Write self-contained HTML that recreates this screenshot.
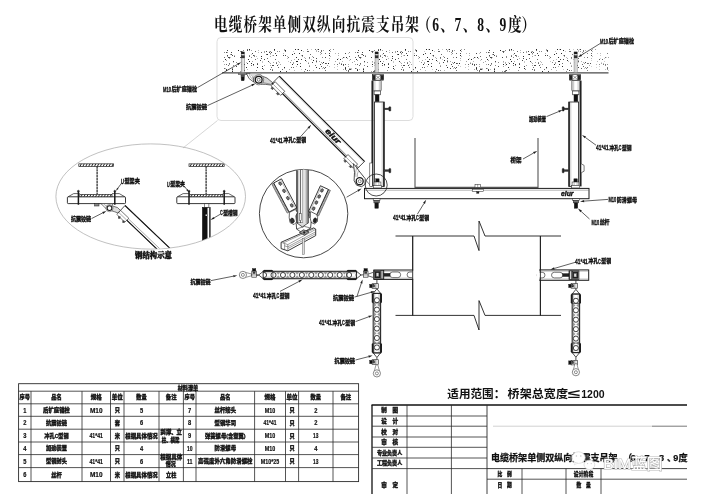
<!DOCTYPE html>
<html lang="zh-CN">
<head>
<meta charset="utf-8">
<title>电缆桥架单侧双纵向抗震支吊架</title>
<style>
html,body{margin:0;padding:0;background:#fff;}
body{width:705px;height:494px;overflow:hidden;font-family:"Liberation Sans","Noto Sans CJK SC",sans-serif;}
svg{display:block;}
</style>
</head>
<body>
<svg width="705" height="494" viewBox="0 0 705 494">
<rect width="705" height="494" fill="#fff"/>
<g opacity="0.999">

<defs><pattern id="stip" x="222" y="48" width="131" height="24" patternUnits="userSpaceOnUse"><path d="M115 18h1v1h-1zM48 6h1v1h-1zM112 19h1v1h-1zM19 14h1v1h-1zM21 17h1v1h-1zM127 12h1v1h-1zM8 9h1v1h-1zM79 21h1v1h-1zM50 7h1v1h-1zM128 20h1v1h-1zM40 13h1v1h-1zM85 22h1v1h-1zM117 14h1v1h-1zM86 14h1v1h-1zM24 14h1v1h-1zM107 18h1v1h-1zM129 21h1v1h-1zM29 6h1v1h-1zM94 14h1v1h-1zM47 3h1v1h-1zM40 14h1v1h-1zM81 3h1v1h-1zM122 9h1v1h-1zM107 12h1v1h-1zM129 20h1v1h-1zM71 3h1v1h-1zM126 5h1v1h-1zM66 13h1v1h-1zM116 10h1v1h-1zM56 16h1v1h-1zM89 11h1v1h-1zM11 14h1v1h-1zM89 1h1v1h-1z" fill="#c8c8c8"/><path d="M119 15h1v1h-1zM121 21h1v1h-1zM48 8h1v1h-1zM71 14h1v1h-1zM80 8h1v1h-1zM48 15h1v1h-1zM62 1h1v1h-1zM94 12h1v1h-1zM116 5h1v1h-1zM27 2h1v1h-1zM125 10h1v1h-1zM58 16h1v1h-1zM7 16h1v1h-1zM97 13h1v1h-1zM7 10h1v1h-1zM2 16h1v1h-1zM69 12h1v1h-1zM1 13h1v1h-1zM4 12h1v1h-1zM8 6h1v1h-1zM112 16h1v1h-1zM42 17h1v1h-1zM77 5h1v1h-1zM51 14h1v1h-1zM96 1h1v1h-1zM42 3h1v1h-1zM90 8h1v1h-1zM31 17h1v1h-1zM105 17h1v1h-1zM42 4h1v1h-1zM103 19h1v1h-1zM48 17h1v1h-1zM19 13h1v1h-1zM30 13h1v1h-1zM5 4h1v1h-1zM113 13h1v1h-1zM87 18h1v1h-1zM130 14h1v1h-1zM19 18h1v1h-1zM126 18h1v1h-1zM107 10h1v1h-1zM101 2h1v1h-1zM62 2h1v1h-1zM29 2h1v1h-1zM106 15h1v1h-1zM67 21h1v1h-1zM108 1h1v1h-1zM83 10h1v1h-1zM21 14h1v1h-1zM71 15h1v1h-1zM5 8h1v1h-1zM108 3h1v1h-1zM126 16h1v1h-1zM18 23h1v1h-1zM99 14h1v1h-1z" fill="#a4a4a4"/><path d="M47 4h1v1h-1zM10 20h1v1h-1zM85 1h1v1h-1zM48 5h1v1h-1zM98 4h1v1h-1zM50 22h1v1h-1zM100 9h1v1h-1zM68 14h1v1h-1zM18 3h1v1h-1zM21 22h1v1h-1zM29 9h1v1h-1zM117 15h1v1h-1zM87 22h1v1h-1zM50 21h1v1h-1zM51 7h1v1h-1zM54 14h1v1h-1zM57 3h1v1h-1zM99 5h1v1h-1zM128 11h1v1h-1zM21 2h1v1h-1zM87 18h1v1h-1zM55 3h1v1h-1zM22 8h1v1h-1zM69 19h1v1h-1zM11 17h1v1h-1zM27 7h1v1h-1zM127 4h1v1h-1zM111 1h1v1h-1zM22 9h1v1h-1zM32 7h1v1h-1zM48 3h1v1h-1zM34 22h1v1h-1zM100 15h1v1h-1zM87 10h1v1h-1zM25 21h1v1h-1zM14 14h1v1h-1zM32 8h1v1h-1zM19 4h1v1h-1zM54 15h1v1h-1zM124 22h1v1h-1zM82 23h1v1h-1zM101 19h1v1h-1zM86 15h1v1h-1zM96 3h1v1h-1zM2 4h1v1h-1zM41 21h1v1h-1z" fill="#8a8a8a"/><path d="M77 5h1v1h-1zM40 20h1v1h-1zM16 2h1v1h-1zM75 16h1v1h-1zM73 1h1v1h-1zM27 13h1v1h-1zM74 13h1v1h-1zM4 22h1v1h-1zM54 7h1v1h-1zM101 14h1v1h-1zM25 1h1v1h-1zM107 7h1v1h-1zM75 13h1v1h-1zM123 20h1v1h-1zM107 2h1v1h-1zM52 1h1v1h-1zM63 2h1v1h-1zM35 19h1v1h-1zM79 2h1v1h-1zM19 16h1v1h-1zM3 20h1v1h-1zM22 16h1v1h-1zM58 23h1v1h-1zM124 9h1v1h-1zM10 23h1v1h-1zM70 6h1v1h-1zM115 11h1v1h-1zM29 15h1v1h-1zM70 16h1v1h-1zM29 17h1v1h-1zM31 16h1v1h-1zM39 8h1v1h-1zM91 12h1v1h-1zM27 1h1v1h-1zM24 19h1v1h-1zM3 11h1v1h-1zM96 1h1v1h-1zM75 1h1v1h-1zM62 19h1v1h-1zM106 15h1v1h-1zM10 21h1v1h-1zM94 19h1v1h-1zM118 11h1v1h-1zM76 1h1v1h-1zM83 12h1v1h-1zM45 6h1v1h-1zM78 18h1v1h-1zM26 11h1v1h-1zM74 9h1v1h-1z" fill="#2a2a2a"/><path d="M115 21h1v1h-1zM21 15h1v1h-1zM120 13h1v1h-1zM100 20h1v1h-1zM98 6h1v1h-1zM65 8h1v1h-1zM94 2h1v1h-1zM3 20h1v1h-1zM20 3h1v1h-1zM84 13h1v1h-1zM127 20h1v1h-1zM10 22h1v1h-1zM36 2h1v1h-1zM94 3h1v1h-1zM116 7h1v1h-1zM25 21h1v1h-1zM82 9h1v1h-1zM74 18h1v1h-1zM65 10h1v1h-1zM72 11h1v1h-1zM34 8h1v1h-1zM61 5h1v1h-1zM87 17h1v1h-1zM95 1h1v1h-1zM12 7h1v1h-1zM72 22h1v1h-1zM57 14h1v1h-1zM62 20h1v1h-1zM113 5h1v1h-1zM35 10h1v1h-1zM47 14h1v1h-1zM79 7h1v1h-1zM91 22h1v1h-1zM56 13h1v1h-1zM75 1h1v1h-1zM6 21h1v1h-1zM36 4h1v1h-1zM108 8h1v1h-1zM120 10h1v1h-1z" fill="#b8b8b8"/><path d="M7 15h1v1h-1zM21 23h1v1h-1zM50 22h1v1h-1zM86 3h1v1h-1zM69 19h1v1h-1zM54 15h1v1h-1zM2 20h1v1h-1zM45 10h1v1h-1zM33 3h1v1h-1zM35 15h1v1h-1zM4 16h1v1h-1zM33 11h1v1h-1zM127 8h1v1h-1zM103 22h1v1h-1zM56 19h1v1h-1zM115 16h1v1h-1zM126 22h1v1h-1zM71 19h1v1h-1zM99 3h1v1h-1zM121 17h1v1h-1zM88 6h1v1h-1zM44 6h1v1h-1zM19 4h1v1h-1zM104 15h1v1h-1zM87 9h1v1h-1zM103 5h1v1h-1zM25 1h1v1h-1zM12 8h1v1h-1zM27 8h1v1h-1zM66 9h1v1h-1zM102 20h1v1h-1zM93 17h1v1h-1zM123 21h1v1h-1zM99 2h1v1h-1zM52 2h1v1h-1zM39 4h1v1h-1zM29 17h1v1h-1zM91 9h1v1h-1zM48 21h1v1h-1zM2 9h1v1h-1zM60 21h1v1h-1zM123 16h1v1h-1zM53 11h1v1h-1zM20 23h1v1h-1zM126 23h1v1h-1zM78 15h1v1h-1zM63 3h1v1h-1zM93 1h1v1h-1zM49 19h1v1h-1zM85 3h1v1h-1zM6 17h1v1h-1z" fill="#6a6a6a"/><path d="M50 17h1v1h-1zM30 5h1v1h-1zM119 16h1v1h-1zM5 7h1v1h-1zM25 2h1v1h-1zM19 3h1v1h-1zM123 19h1v1h-1zM39 10h1v1h-1zM63 7h1v1h-1zM44 3h1v1h-1zM18 9h1v1h-1zM79 11h1v1h-1zM94 10h1v1h-1zM51 17h1v1h-1zM53 5h1v1h-1zM4 21h1v1h-1zM103 15h1v1h-1zM6 9h1v1h-1zM121 9h1v1h-1zM9 6h1v1h-1zM83 21h1v1h-1zM31 7h1v1h-1zM35 16h1v1h-1zM97 20h1v1h-1zM103 9h1v1h-1zM121 16h1v1h-1zM7 9h1v1h-1zM5 2h1v1h-1zM64 23h1v1h-1zM40 18h1v1h-1zM55 17h1v1h-1zM80 7h1v1h-1zM49 4h1v1h-1zM4 4h1v1h-1zM123 5h1v1h-1zM47 4h1v1h-1zM90 14h1v1h-1zM10 7h1v1h-1zM94 13h1v1h-1zM46 13h1v1h-1zM76 11h1v1h-1zM103 19h1v1h-1zM127 21h1v1h-1zM11 13h1v1h-1zM98 16h1v1h-1zM25 15h1v1h-1zM61 7h1v1h-1zM128 21h1v1h-1zM9 4h1v1h-1zM22 22h1v1h-1zM38 12h1v1h-1zM72 5h1v1h-1zM99 18h1v1h-1zM14 18h1v1h-1zM85 22h1v1h-1zM107 5h1v1h-1zM42 11h1v1h-1z" fill="#4a4a4a"/></pattern>
<linearGradient id="fadeR" x1="0" x2="1" y1="0" y2="0"><stop offset="0" stop-color="#fff" stop-opacity="0"/><stop offset="1" stop-color="#fff" stop-opacity="0.3"/></linearGradient>
</defs>
<g transform="translate(0,31.2) scale(1,1.33)">
<text x="214 228.72 243.44 258.16 272.88 287.6 302.32 317.04 331.76 346.48 361.2 375.92 390.64 405.36" y="0" font-size="13.6" font-family='"Liberation Serif","Noto Serif CJK SC",serif' font-weight="700" fill="#111">电缆桥架单侧双纵向抗震支吊架</text>
<text x="417.5 432.2 440.2 454.6 462.8 477.2 485.6 499.6 508 521.5" y="0" font-size="13.6" font-family='"Liberation Serif","Noto Serif CJK SC",serif' font-weight="700" fill="#111">（6、7、8、9度）</text>
</g>
<rect x="217" y="37.5" width="196" height="83" rx="4" stroke="#d4d4d4" stroke-width="0.8" fill="none" />
<line x1="217.5" y1="120.5" x2="183" y2="148" stroke="#c4c4c4" stroke-width="0.7" />
<rect x="222" y="48" width="386.5" height="24" fill="url(#stip)"/>
<rect x="560" y="48.5" width="48.5" height="23.5" fill="url(#fadeR)"/>
<line x1="222" y1="72.8" x2="608.5" y2="72.8" stroke="#4a4a4a" stroke-width="1.3" />
<rect x="241.2" y="52" width="3" height="20.6" rx="0" stroke="#555" stroke-width="0.5" fill="#f4f4f4" />
<rect x="241.2" y="52" width="3" height="2" rx="0" stroke="#1c1c1c" stroke-width="0.3" fill="#1a1a1a" />
<rect x="241.2" y="55.5" width="3" height="2.5" rx="0" stroke="#1c1c1c" stroke-width="0.3" fill="#333" />
<line x1="242.7" y1="58" x2="242.7" y2="72.6" stroke="#999" stroke-width="0.4" />
<rect x="238.6" y="73.5" width="8.2" height="1.3" rx="0" stroke="#444" stroke-width="0.4" fill="#999" />
<path d="M240.9 74.8 H244.6 L244.1 80.4 H241.4 Z" stroke="#222" stroke-width="0.4" fill="#555" />
<rect x="241.5" y="77" width="2.5" height="3.4" rx="0" stroke="#1c1c1c" stroke-width="0.3" fill="#111" />
<rect x="375.1" y="52" width="3" height="20.6" rx="0" stroke="#555" stroke-width="0.5" fill="#f4f4f4" />
<rect x="375.1" y="52" width="3" height="2" rx="0" stroke="#1c1c1c" stroke-width="0.3" fill="#1a1a1a" />
<rect x="375.1" y="55.5" width="3" height="2.5" rx="0" stroke="#1c1c1c" stroke-width="0.3" fill="#333" />
<line x1="376.6" y1="58" x2="376.6" y2="72.6" stroke="#999" stroke-width="0.4" />
<rect x="574.1" y="52" width="3" height="20.6" rx="0" stroke="#555" stroke-width="0.5" fill="#f4f4f4" />
<rect x="574.1" y="52" width="3" height="2" rx="0" stroke="#1c1c1c" stroke-width="0.3" fill="#1a1a1a" />
<rect x="574.1" y="55.5" width="3" height="2.5" rx="0" stroke="#1c1c1c" stroke-width="0.3" fill="#333" />
<line x1="575.6" y1="58" x2="575.6" y2="72.6" stroke="#999" stroke-width="0.4" />
<path d="M246.4 73.4 Q248.2 79.4 253.6 82 Q254 76.4 250.2 73.4 Z" stroke="#222" stroke-width="0.7" fill="#fff" />
<path d="M248.8 73.4 Q250 77.4 253.2 80" stroke="#666" stroke-width="0.5" fill="none" />
<path d="M250.2 73.4 L262 73.4 L258.8 75.6 Q254 75.8 253 77.6" stroke="#888" stroke-width="0.5" fill="#ddd" />
<path d="M261.4 75.8 L267 78 L272.6 82.6 L270.8 85 L265.6 84.4 L261 84.2 Z" stroke="#333" stroke-width="0.7" fill="#d8d8d8" />
<path d="M263 82.6 L270.6 84.2" stroke="#555" stroke-width="0.5" fill="none" />
<circle cx="258.7" cy="79.8" r="5" stroke="#333" stroke-width="0.6" fill="#fff"/>
<circle cx="258.7" cy="79.8" r="3.4" stroke="#1a1a1a" stroke-width="1.3" fill="#fff"/>
<circle cx="258.7" cy="79.8" r="1.5" stroke="#333" stroke-width="0.6" fill="#fff"/>
<path d="M279.29 76.21L364.49 161.42L357.42 168.49L272.21 83.29Z" stroke="#1c1c1c" stroke-width="0.8" fill="#fff" />
<line x1="279.29" y1="76.21" x2="364.49" y2="161.42" stroke="#1a1a1a" stroke-width="1.1" />
<line x1="272.21" y1="83.29" x2="357.42" y2="168.49" stroke="#1a1a1a" stroke-width="1.2" />
<line x1="273.35" y1="82.15" x2="358.55" y2="167.36" stroke="#444" stroke-width="0.6" />
<line x1="278.51" y1="76.99" x2="363.71" y2="162.2" stroke="#888" stroke-width="0.4" />
<path d="M275.18 81.73L284.73 91.28L280.63 95.38L271.08 85.83Z" stroke="#222" stroke-width="0.7" fill="#fff" />
<line x1="272.92" y1="83.99" x2="282.47" y2="93.54" stroke="#555" stroke-width="0.5" />
<path d="M272.14 86.89L273.7 88.45L272.43 89.72L270.87 88.16Z" stroke="#222" stroke-width="0.4" fill="#555" />
<path d="M277.59 92.34L279.14 93.89L277.87 95.16L276.32 93.61Z" stroke="#222" stroke-width="0.4" fill="#555" />
<path d="M348.02 154.56L357.56 164.11L353.46 168.21L343.91 158.66Z" stroke="#222" stroke-width="0.7" fill="#fff" />
<line x1="345.75" y1="156.82" x2="355.3" y2="166.37" stroke="#555" stroke-width="0.5" />
<path d="M344.98 159.72L346.53 161.28L345.26 162.55L343.7 161Z" stroke="#222" stroke-width="0.4" fill="#555" />
<path d="M350.42 165.17L351.98 166.72L350.7 168L349.15 166.44Z" stroke="#222" stroke-width="0.4" fill="#555" />
<text transform="translate(332.81,136.53) rotate(45)" x="0" y="2.2" font-size="7.6" font-style="italic" font-weight="bold" font-family='"Liberation Sans","Noto Sans CJK SC",sans-serif' text-anchor="middle" fill="#111" stroke="#111" stroke-width="0.45" textLength="18.5" lengthAdjust="spacingAndGlyphs">eiur</text>
<path d="M353.4 163.6 L356.6 167.4 L358.6 170.4 L365.3 178.8 L364.9 184.4 L361.6 186.7 L356.6 185.2 L354.1 180.6 L354.5 172.4 Z" stroke="#222" stroke-width="0.8" fill="#fff" />
<path d="M356.6 167.4 L355.6 172.6 L356 177" stroke="#666" stroke-width="0.5" fill="none" />
<path d="M358.6 170.4 L357.4 174 L357.6 176.8" stroke="#666" stroke-width="0.5" fill="none" />
<circle cx="359.7" cy="181.2" r="3.5" stroke="#1a1a1a" stroke-width="1.3" fill="#fff"/>
<circle cx="359.7" cy="181.2" r="1.5" stroke="#333" stroke-width="0.6" fill="#fff"/>
<path d="M365.6 179.8 L371.4 186.8" stroke="#333" stroke-width="0.6" fill="none" />
<g transform="translate(372.3,0)">
<rect x="0.4" y="74.6" width="10.6" height="5.6" rx="0" stroke="#1c1c1c" stroke-width="0.6" fill="#fff" />
<rect x="0.4" y="75.2" width="2.6" height="4.6" rx="0" stroke="#1c1c1c" stroke-width="0.4" fill="#222" />
<rect x="8.4" y="75.2" width="2.6" height="4.6" rx="0" stroke="#1c1c1c" stroke-width="0.4" fill="#222" />
<path d="M3 75 L8.4 79.8 M3 79.8 L8.4 75" stroke="#333" stroke-width="0.5" fill="none" />
<rect x="0.8" y="80.4" width="8" height="10.6" rx="0.8" stroke="#1c1c1c" stroke-width="0.7" fill="#fff" />
<line x1="2.6" y1="81" x2="2.6" y2="90.6" stroke="#666" stroke-width="0.4" />
<line x1="7" y1="81" x2="7" y2="90.6" stroke="#666" stroke-width="0.4" />
<rect x="1.8" y="91" width="6.2" height="3.8" rx="0" stroke="#1c1c1c" stroke-width="0.6" fill="#fff" />
<rect x="2.9" y="94.8" width="3.8" height="6.8" rx="0" stroke="#1c1c1c" stroke-width="0.5" fill="#111" />
<line x1="0" y1="80.6" x2="0" y2="186.4" stroke="#222" stroke-width="1.7" />
<line x1="1.3" y1="91" x2="1.3" y2="186.4" stroke="#555" stroke-width="0.5" />
<rect x="2.1" y="102" width="9.8" height="84.4" rx="0" stroke="#1c1c1c" stroke-width="0.8" fill="#fff" />
<line x1="11.5" y1="102" x2="11.5" y2="186.4" stroke="#222" stroke-width="1.4" />
<line x1="9.9" y1="102" x2="9.9" y2="186.4" stroke="#777" stroke-width="0.4" />
<rect x="12.2" y="108.1" width="4.4" height="1.6" rx="0" stroke="#1c1c1c" stroke-width="0.4" fill="#333" />
<rect x="16.6" y="106.7" width="1.9" height="4.4" rx="0.6" stroke="#1c1c1c" stroke-width="0.4" fill="#222" />
<rect x="12.2" y="169.8" width="4.4" height="1.6" rx="0" stroke="#1c1c1c" stroke-width="0.4" fill="#333" />
<rect x="16.6" y="168.4" width="1.9" height="4.4" rx="0.6" stroke="#1c1c1c" stroke-width="0.4" fill="#222" />
<rect x="-2.5" y="163" width="2.5" height="23.4" rx="0" stroke="#1c1c1c" stroke-width="0.5" fill="#fff" />
<rect x="3.4" y="178.8" width="3.4" height="3.2" rx="0" stroke="#1c1c1c" stroke-width="0.4" fill="#111" />
<rect x="1.8" y="182" width="6.8" height="3.4" rx="0" stroke="#1c1c1c" stroke-width="0.5" fill="#fff" />
<line x1="3.6" y1="182" x2="3.6" y2="185.4" stroke="#444" stroke-width="0.4" />
<line x1="6.6" y1="182" x2="6.6" y2="185.4" stroke="#444" stroke-width="0.4" />
<rect x="1.2" y="185.4" width="8" height="2.6" rx="0" stroke="#1c1c1c" stroke-width="0.5" fill="#fff" />
</g>
<g transform="translate(580.7,0) scale(-1,1)">
<rect x="0.4" y="74.6" width="10.6" height="5.6" rx="0" stroke="#1c1c1c" stroke-width="0.6" fill="#fff" />
<rect x="0.4" y="75.2" width="2.6" height="4.6" rx="0" stroke="#1c1c1c" stroke-width="0.4" fill="#222" />
<rect x="8.4" y="75.2" width="2.6" height="4.6" rx="0" stroke="#1c1c1c" stroke-width="0.4" fill="#222" />
<path d="M3 75 L8.4 79.8 M3 79.8 L8.4 75" stroke="#333" stroke-width="0.5" fill="none" />
<rect x="0.8" y="80.4" width="8" height="10.6" rx="0.8" stroke="#1c1c1c" stroke-width="0.7" fill="#fff" />
<line x1="2.6" y1="81" x2="2.6" y2="90.6" stroke="#666" stroke-width="0.4" />
<line x1="7" y1="81" x2="7" y2="90.6" stroke="#666" stroke-width="0.4" />
<rect x="1.8" y="91" width="6.2" height="3.8" rx="0" stroke="#1c1c1c" stroke-width="0.6" fill="#fff" />
<rect x="2.9" y="94.8" width="3.8" height="6.8" rx="0" stroke="#1c1c1c" stroke-width="0.5" fill="#111" />
<line x1="0" y1="80.6" x2="0" y2="186.4" stroke="#222" stroke-width="1.7" />
<line x1="1.3" y1="91" x2="1.3" y2="186.4" stroke="#555" stroke-width="0.5" />
<rect x="2.1" y="102" width="9.8" height="84.4" rx="0" stroke="#1c1c1c" stroke-width="0.8" fill="#fff" />
<line x1="11.5" y1="102" x2="11.5" y2="186.4" stroke="#222" stroke-width="1.4" />
<line x1="9.9" y1="102" x2="9.9" y2="186.4" stroke="#777" stroke-width="0.4" />
<rect x="12.2" y="108.1" width="4.4" height="1.6" rx="0" stroke="#1c1c1c" stroke-width="0.4" fill="#333" />
<rect x="16.6" y="106.7" width="1.9" height="4.4" rx="0.6" stroke="#1c1c1c" stroke-width="0.4" fill="#222" />
<rect x="12.2" y="169.8" width="4.4" height="1.6" rx="0" stroke="#1c1c1c" stroke-width="0.4" fill="#333" />
<rect x="16.6" y="168.4" width="1.9" height="4.4" rx="0.6" stroke="#1c1c1c" stroke-width="0.4" fill="#222" />
<path d="M-0.8 164 L-3.4 165.4 V171.2 L-0.8 172.6" stroke="#222" stroke-width="0.6" fill="#fff" />
<rect x="3.4" y="178.8" width="3.4" height="3.2" rx="0" stroke="#1c1c1c" stroke-width="0.4" fill="#111" />
<rect x="1.8" y="182" width="6.8" height="3.4" rx="0" stroke="#1c1c1c" stroke-width="0.5" fill="#fff" />
<line x1="3.6" y1="182" x2="3.6" y2="185.4" stroke="#444" stroke-width="0.4" />
<line x1="6.6" y1="182" x2="6.6" y2="185.4" stroke="#444" stroke-width="0.4" />
<rect x="1.2" y="185.4" width="8" height="2.6" rx="0" stroke="#1c1c1c" stroke-width="0.5" fill="#fff" />
</g>
<rect x="364.5" y="188.4" width="224.5" height="10.3" rx="0" stroke="#1c1c1c" stroke-width="1.0" fill="#fff" />
<line x1="364.5" y1="190.2" x2="589" y2="190.2" stroke="#666" stroke-width="0.5" />
<path d="M415 138 V187.4 H538 V138" stroke="#555" stroke-width="1.1" fill="none" />
<rect x="475" y="184.3" width="5.4" height="3.1" rx="0" stroke="#1c1c1c" stroke-width="0.5" fill="#fff" />
<line x1="477.7" y1="184.3" x2="477.7" y2="187.4" stroke="#1c1c1c" stroke-width="0.4" />
<rect x="472.2" y="189.2" width="11.4" height="2.1" rx="0" stroke="#1c1c1c" stroke-width="0.5" fill="#fff" />
<rect x="476.6" y="191.6" width="2.4" height="1.8" rx="0" stroke="#1c1c1c" stroke-width="0.3" fill="#222" />
<text x="567.2" y="196.3" font-size="6.4" font-weight="bold" font-family='"Liberation Sans","Noto Sans CJK SC",sans-serif' text-anchor="middle" fill="#111" textLength="12.4" lengthAdjust="spacingAndGlyphs" font-style="italic" stroke="#111" stroke-width="0.4">eiur</text>
<rect x="373.2" y="198.8" width="6.8" height="1.5" rx="0" stroke="#1c1c1c" stroke-width="0.5" fill="#fff" />
<rect x="373.9" y="200.3" width="5.4" height="2.6" rx="0" stroke="#1c1c1c" stroke-width="0.5" fill="#777" />
<rect x="374.9" y="202.9" width="3.4" height="5.3" rx="0" stroke="#1c1c1c" stroke-width="0.5" fill="#111" />
<rect x="572.6" y="198.8" width="6.8" height="1.5" rx="0" stroke="#1c1c1c" stroke-width="0.5" fill="#fff" />
<rect x="573.3" y="200.3" width="5.4" height="2.6" rx="0" stroke="#1c1c1c" stroke-width="0.5" fill="#777" />
<rect x="574.3" y="202.9" width="3.4" height="5.3" rx="0" stroke="#1c1c1c" stroke-width="0.5" fill="#111" />
<circle cx="376.2" cy="185" r="11" stroke="#222" stroke-width="0.8" fill="none"/>
<text x="163" y="92.15" font-size="7.8" font-weight="bold" font-family='"Liberation Sans","Noto Sans CJK SC",sans-serif' text-anchor="start" fill="#111" textLength="7.94" lengthAdjust="spacingAndGlyphs" stroke="#111" stroke-width="0.35">M10</text>
<text x="171.44" y="91.47" font-size="6.1" font-weight="900" font-family='"Liberation Sans","Noto Sans CJK SC",sans-serif' text-anchor="start" fill="#111" textLength="25.56" lengthAdjust="spacingAndGlyphs" stroke="#111" stroke-width="0.3">后扩底锚栓</text>
<line x1="197.5" y1="87.6" x2="237.57" y2="64.4" stroke="#1c1c1c" stroke-width="0.7" />
<path d="M241.2 62.3L238.12 65.36L237.01 63.45Z" fill="#1c1c1c"/>
<text x="186" y="109.17" font-size="6.1" font-weight="900" font-family='"Liberation Sans","Noto Sans CJK SC",sans-serif' text-anchor="start" fill="#111" textLength="21" lengthAdjust="spacingAndGlyphs" stroke="#111" stroke-width="0.3">抗震铰链</text>
<line x1="207.5" y1="105.6" x2="251.78" y2="85.35" stroke="#1c1c1c" stroke-width="0.7" />
<path d="M255.6 83.6L252.24 86.35L251.32 84.35Z" fill="#1c1c1c"/>
<text x="270" y="142.85" font-size="7.8" font-weight="bold" font-family='"Liberation Sans","Noto Sans CJK SC",sans-serif' text-anchor="start" fill="#111" textLength="12.86" lengthAdjust="spacingAndGlyphs" stroke="#111" stroke-width="0.35">41*41</text>
<text x="283.36" y="142.17" font-size="6.1" font-weight="900" font-family='"Liberation Sans","Noto Sans CJK SC",sans-serif' text-anchor="start" fill="#111" textLength="9.72" lengthAdjust="spacingAndGlyphs" stroke="#111" stroke-width="0.3">冲孔</text>
<text x="293.08" y="142.85" font-size="7.8" font-weight="bold" font-family='"Liberation Sans","Noto Sans CJK SC",sans-serif' text-anchor="start" fill="#111" textLength="2.71" lengthAdjust="spacingAndGlyphs" stroke="#111" stroke-width="0.35">C</text>
<text x="296.28" y="142.17" font-size="6.1" font-weight="900" font-family='"Liberation Sans","Noto Sans CJK SC",sans-serif' text-anchor="start" fill="#111" textLength="9.72" lengthAdjust="spacingAndGlyphs" stroke="#111" stroke-width="0.3">型钢</text>
<line x1="301" y1="136.2" x2="308.4" y2="127.93" stroke="#1c1c1c" stroke-width="0.7" />
<path d="M311.2 124.8L309.22 128.66L307.58 127.2Z" fill="#1c1c1c"/>
<text x="600" y="44.05" font-size="7.8" font-weight="bold" font-family='"Liberation Sans","Noto Sans CJK SC",sans-serif' text-anchor="start" fill="#111" textLength="7.94" lengthAdjust="spacingAndGlyphs" stroke="#111" stroke-width="0.35">M10</text>
<text x="608.44" y="43.37" font-size="6.1" font-weight="900" font-family='"Liberation Sans","Noto Sans CJK SC",sans-serif' text-anchor="start" fill="#111" textLength="25.56" lengthAdjust="spacingAndGlyphs" stroke="#111" stroke-width="0.3">后扩底锚栓</text>
<line x1="600" y1="43.6" x2="581.57" y2="54.99" stroke="#1c1c1c" stroke-width="0.7" />
<path d="M578 57.2L580.99 54.06L582.15 55.93Z" fill="#1c1c1c"/>
<text x="529" y="121.17" font-size="6.1" font-weight="900" font-family='"Liberation Sans","Noto Sans CJK SC",sans-serif' text-anchor="start" fill="#111" textLength="17" lengthAdjust="spacingAndGlyphs" stroke="#111" stroke-width="0.3">加劲装置</text>
<line x1="546.5" y1="116.6" x2="558.62" y2="111.6" stroke="#1c1c1c" stroke-width="0.7" />
<path d="M562.5 110L559.04 112.62L558.2 110.58Z" fill="#1c1c1c"/>
<text x="596" y="150.45" font-size="7.8" font-weight="bold" font-family='"Liberation Sans","Noto Sans CJK SC",sans-serif' text-anchor="start" fill="#111" textLength="12.67" lengthAdjust="spacingAndGlyphs" stroke="#111" stroke-width="0.35">41*41</text>
<text x="609.17" y="149.77" font-size="6.1" font-weight="900" font-family='"Liberation Sans","Noto Sans CJK SC",sans-serif' text-anchor="start" fill="#111" textLength="9.58" lengthAdjust="spacingAndGlyphs" stroke="#111" stroke-width="0.3">冲孔</text>
<text x="618.76" y="150.45" font-size="7.8" font-weight="bold" font-family='"Liberation Sans","Noto Sans CJK SC",sans-serif' text-anchor="start" fill="#111" textLength="2.66" lengthAdjust="spacingAndGlyphs" stroke="#111" stroke-width="0.35">C</text>
<text x="621.92" y="149.77" font-size="6.1" font-weight="900" font-family='"Liberation Sans","Noto Sans CJK SC",sans-serif' text-anchor="start" fill="#111" textLength="9.58" lengthAdjust="spacingAndGlyphs" stroke="#111" stroke-width="0.3">型钢</text>
<line x1="596" y1="145.2" x2="585.39" y2="137.47" stroke="#1c1c1c" stroke-width="0.7" />
<path d="M582 135L586.04 136.58L584.75 138.36Z" fill="#1c1c1c"/>
<text x="510.5" y="162.37" font-size="6.1" font-weight="900" font-family='"Liberation Sans","Noto Sans CJK SC",sans-serif' text-anchor="start" fill="#111" textLength="11" lengthAdjust="spacingAndGlyphs" stroke="#111" stroke-width="0.3">桥架</text>
<line x1="523" y1="159" x2="533.54" y2="153.06" stroke="#1c1c1c" stroke-width="0.7" />
<path d="M537.2 151L534.08 154.02L533 152.1Z" fill="#1c1c1c"/>
<text x="393" y="220.45" font-size="7.8" font-weight="bold" font-family='"Liberation Sans","Noto Sans CJK SC",sans-serif' text-anchor="start" fill="#111" textLength="12.86" lengthAdjust="spacingAndGlyphs" stroke="#111" stroke-width="0.35">41*41</text>
<text x="406.36" y="219.77" font-size="6.1" font-weight="900" font-family='"Liberation Sans","Noto Sans CJK SC",sans-serif' text-anchor="start" fill="#111" textLength="9.72" lengthAdjust="spacingAndGlyphs" stroke="#111" stroke-width="0.3">冲孔</text>
<text x="416.08" y="220.45" font-size="7.8" font-weight="bold" font-family='"Liberation Sans","Noto Sans CJK SC",sans-serif' text-anchor="start" fill="#111" textLength="2.71" lengthAdjust="spacingAndGlyphs" stroke="#111" stroke-width="0.35">C</text>
<text x="419.28" y="219.77" font-size="6.1" font-weight="900" font-family='"Liberation Sans","Noto Sans CJK SC",sans-serif' text-anchor="start" fill="#111" textLength="9.72" lengthAdjust="spacingAndGlyphs" stroke="#111" stroke-width="0.3">型钢</text>
<line x1="417.5" y1="214" x2="424.01" y2="203.38" stroke="#1c1c1c" stroke-width="0.7" />
<path d="M426.2 199.8L424.94 203.96L423.07 202.81Z" fill="#1c1c1c"/>
<text x="608.5" y="202.45" font-size="7.8" font-weight="bold" font-family='"Liberation Sans","Noto Sans CJK SC",sans-serif' text-anchor="start" fill="#111" textLength="7.82" lengthAdjust="spacingAndGlyphs" stroke="#111" stroke-width="0.35">M10</text>
<text x="616.82" y="201.77" font-size="6.1" font-weight="900" font-family='"Liberation Sans","Noto Sans CJK SC",sans-serif' text-anchor="start" fill="#111" textLength="20.18" lengthAdjust="spacingAndGlyphs" stroke="#111" stroke-width="0.3">防滑螺母</text>
<line x1="608" y1="199.4" x2="584.19" y2="201.1" stroke="#1c1c1c" stroke-width="0.7" />
<path d="M580 201.4L584.11 200L584.27 202.2Z" fill="#1c1c1c"/>
<text x="591.5" y="224.85" font-size="7.8" font-weight="bold" font-family='"Liberation Sans","Noto Sans CJK SC",sans-serif' text-anchor="start" fill="#111" textLength="7.64" lengthAdjust="spacingAndGlyphs" stroke="#111" stroke-width="0.35">M10</text>
<text x="599.64" y="224.17" font-size="6.1" font-weight="900" font-family='"Liberation Sans","Noto Sans CJK SC",sans-serif' text-anchor="start" fill="#111" textLength="9.86" lengthAdjust="spacingAndGlyphs" stroke="#111" stroke-width="0.3">丝杆</text>
<line x1="589.5" y1="219" x2="581.12" y2="211.42" stroke="#1c1c1c" stroke-width="0.7" />
<path d="M578 208.6L581.85 210.6L580.38 212.23Z" fill="#1c1c1c"/>
<ellipse cx="150.7" cy="196.5" rx="94.8" ry="52.6" fill="none" stroke="#a6a6a6" stroke-width="0.7"/>
<clipPath id="ellc"><ellipse cx="150.7" cy="196.5" rx="94.4" ry="52.2"/></clipPath>
<g clip-path="url(#ellc)">
<rect x="78.8" y="163.85" width="34.8" height="2.5" rx="0" stroke="#222" stroke-width="0.7" fill="#fff" />
<path d="M81.3 163.85L80 166.35M84.2 163.85L82.9 166.35M87.1 163.85L85.8 166.35M90 163.85L88.7 166.35M92.9 163.85L91.6 166.35M95.8 163.85L94.5 166.35M98.7 163.85L97.4 166.35M101.6 163.85L100.3 166.35M104.5 163.85L103.2 166.35M107.4 163.85L106.1 166.35M110.3 163.85L109 166.35M113.2 163.85L111.9 166.35" stroke="#222" stroke-width="1.0" fill="none" />
<line x1="97.1" y1="166.3" x2="97.1" y2="194" stroke="#222" stroke-width="1.2" stroke-dasharray="2.4 0.5"/>
<rect x="67.4" y="196.8" width="58.1" height="6.8" rx="0.8" stroke="#222" stroke-width="0.9" fill="#fff" />
<path d="M68 196.8 L73.7 193.6 H79.8 M124.9 196.8 L119.2 193.6 H112" stroke="#222" stroke-width="0.7" fill="none" />
<rect x="79.8" y="194.45" width="32.2" height="2.3" rx="0" stroke="#222" stroke-width="0.7" fill="#fff" />
<path d="M82.3 194.45L81 196.75M85.2 194.45L83.9 196.75M88.1 194.45L86.8 196.75M91 194.45L89.7 196.75M93.9 194.45L92.6 196.75M96.8 194.45L95.5 196.75M99.7 194.45L98.4 196.75M102.6 194.45L101.3 196.75M105.5 194.45L104.2 196.75M108.4 194.45L107.1 196.75M111.3 194.45L110 196.75" stroke="#222" stroke-width="1.0" fill="none" />
<line x1="78.4" y1="191.4" x2="78.4" y2="204.8" stroke="#1a1a1a" stroke-width="1.5" />
<circle cx="78.4" cy="191.2" r="1" stroke="#1c1c1c" stroke-width="0.4" fill="#222"/>
<line x1="114.8" y1="191.4" x2="114.8" y2="204.8" stroke="#1a1a1a" stroke-width="1.5" />
<circle cx="114.8" cy="191.2" r="1" stroke="#1c1c1c" stroke-width="0.4" fill="#222"/>
<rect x="189" y="163.85" width="35.2" height="2.5" rx="0" stroke="#222" stroke-width="0.7" fill="#fff" />
<path d="M191.5 163.85L190.2 166.35M194.4 163.85L193.1 166.35M197.3 163.85L196 166.35M200.2 163.85L198.9 166.35M203.1 163.85L201.8 166.35M206 163.85L204.7 166.35M208.9 163.85L207.6 166.35M211.8 163.85L210.5 166.35M214.7 163.85L213.4 166.35M217.6 163.85L216.3 166.35M220.5 163.85L219.2 166.35M223.4 163.85L222.1 166.35" stroke="#222" stroke-width="1.0" fill="none" />
<line x1="206.1" y1="166.3" x2="206.1" y2="194" stroke="#222" stroke-width="1.2" stroke-dasharray="2.4 0.5"/>
<rect x="176.8" y="196.8" width="58.2" height="6.8" rx="0.8" stroke="#222" stroke-width="0.9" fill="#fff" />
<path d="M177.4 196.8 L183.1 193.6 H189.8 M234.4 196.8 L228.7 193.6 H222.8" stroke="#222" stroke-width="0.7" fill="none" />
<rect x="189.8" y="194.45" width="33" height="2.3" rx="0" stroke="#222" stroke-width="0.7" fill="#fff" />
<path d="M192.3 194.45L191 196.75M195.2 194.45L193.9 196.75M198.1 194.45L196.8 196.75M201 194.45L199.7 196.75M203.9 194.45L202.6 196.75M206.8 194.45L205.5 196.75M209.7 194.45L208.4 196.75M212.6 194.45L211.3 196.75M215.5 194.45L214.2 196.75M218.4 194.45L217.1 196.75M221.3 194.45L220 196.75" stroke="#222" stroke-width="1.0" fill="none" />
<line x1="189" y1="191.4" x2="189" y2="204.8" stroke="#1a1a1a" stroke-width="1.5" />
<circle cx="189" cy="191.2" r="1" stroke="#1c1c1c" stroke-width="0.4" fill="#222"/>
<line x1="224.2" y1="191.4" x2="224.2" y2="204.8" stroke="#1a1a1a" stroke-width="1.5" />
<circle cx="224.2" cy="191.2" r="1" stroke="#1c1c1c" stroke-width="0.4" fill="#222"/>
<rect x="94.7" y="203.6" width="4.3" height="2.4" rx="0" stroke="#1c1c1c" stroke-width="0.5" fill="#888" />
<path d="M101 203.6 H113.4 L111.6 205.6 L107 209.6 Z" stroke="#222" stroke-width="0.6" fill="#fff" />
<path d="M103.6 203.8 L107.6 207.6" stroke="#666" stroke-width="0.5" fill="none" />
<path d="M112 205.8 L117.6 207.6 L121 211 L119 213.4 L114.5 211.7 L111.6 210.8 Z" stroke="#222" stroke-width="0.6" fill="#ddd" />
<circle cx="109.5" cy="208.1" r="3.6" stroke="#333" stroke-width="0.5" fill="#fff"/>
<circle cx="109.5" cy="208.1" r="2.4" stroke="#1a1a1a" stroke-width="1.1" fill="#fff"/>
<path d="M125 205.5 L170 248.4 L160 252 L118.6 212.4 Z" stroke="#222" stroke-width="0.8" fill="#fff" />
<line x1="125" y1="205.5" x2="170" y2="248.4" stroke="#1a1a1a" stroke-width="1.1" />
<line x1="118.6" y1="212.4" x2="160" y2="252" stroke="#1a1a1a" stroke-width="1.1" />
<line x1="120.2" y1="211" x2="163" y2="251.8" stroke="#555" stroke-width="0.5" />
<path d="M120.6 210.4 L128.8 218.2 L124.8 222.2 L116.8 214.4 Z" stroke="#222" stroke-width="0.6" fill="#fff" />
<line x1="118.7" y1="212.4" x2="126.8" y2="220.2" stroke="#555" stroke-width="0.5" />
<rect x="118.3" y="216.7" width="1.8" height="1.8" rx="0" stroke="#1c1c1c" stroke-width="0.3" fill="#444" />
<rect x="122.7" y="220.9" width="1.8" height="1.8" rx="0" stroke="#1c1c1c" stroke-width="0.3" fill="#444" />
<rect x="204.3" y="203.8" width="4.6" height="4" rx="0" stroke="#1c1c1c" stroke-width="0.5" fill="#fff" />
<rect x="202.4" y="207.6" width="7.8" height="45" rx="0" stroke="#1c1c1c" stroke-width="0.6" fill="#fff" />
<rect x="202.6" y="207.6" width="4.6" height="45" rx="0" stroke="#1c1c1c" stroke-width="0.4" fill="#111" />
<line x1="209.7" y1="207.6" x2="209.7" y2="252" stroke="#222" stroke-width="1.0" />
<circle cx="206.3" cy="215.2" r="0.9" stroke="#111" stroke-width="0.3" fill="#fff"/>
</g>
<text x="121" y="184.05" font-size="7.8" font-weight="bold" font-family='"Liberation Sans","Noto Sans CJK SC",sans-serif' text-anchor="start" fill="#111" textLength="2.93" lengthAdjust="spacingAndGlyphs" stroke="#111" stroke-width="0.35">U</text>
<text x="124.43" y="183.37" font-size="6.1" font-weight="900" font-family='"Liberation Sans","Noto Sans CJK SC",sans-serif' text-anchor="start" fill="#111" textLength="15.57" lengthAdjust="spacingAndGlyphs" stroke="#111" stroke-width="0.3">型梁夹</text>
<line x1="121.5" y1="183.2" x2="117.88" y2="188.21" stroke="#1c1c1c" stroke-width="0.7" />
<path d="M116 190.8L117.15 187.68L118.61 188.74Z" fill="#1c1c1c"/>
<text x="167" y="186.85" font-size="7.8" font-weight="bold" font-family='"Liberation Sans","Noto Sans CJK SC",sans-serif' text-anchor="start" fill="#111" textLength="2.75" lengthAdjust="spacingAndGlyphs" stroke="#111" stroke-width="0.35">U</text>
<text x="170.25" y="186.17" font-size="6.1" font-weight="900" font-family='"Liberation Sans","Noto Sans CJK SC",sans-serif' text-anchor="start" fill="#111" textLength="14.75" lengthAdjust="spacingAndGlyphs" stroke="#111" stroke-width="0.3">型梁夹</text>
<line x1="184.5" y1="186.4" x2="186.85" y2="189.46" stroke="#1c1c1c" stroke-width="0.7" />
<path d="M188.8 192L186.14 190.01L187.56 188.91Z" fill="#1c1c1c"/>
<text x="71" y="221.17" font-size="6.1" font-weight="900" font-family='"Liberation Sans","Noto Sans CJK SC",sans-serif' text-anchor="start" fill="#111" textLength="20" lengthAdjust="spacingAndGlyphs" stroke="#111" stroke-width="0.3">抗震铰链</text>
<line x1="91.5" y1="218.6" x2="102.66" y2="212.91" stroke="#1c1c1c" stroke-width="0.7" />
<path d="M106.4 211L103.16 213.89L102.16 211.93Z" fill="#1c1c1c"/>
<text x="220" y="215.45" font-size="7.8" font-weight="bold" font-family='"Liberation Sans","Noto Sans CJK SC",sans-serif' text-anchor="start" fill="#111" textLength="2.66" lengthAdjust="spacingAndGlyphs" stroke="#111" stroke-width="0.35">C</text>
<text x="223.16" y="214.77" font-size="6.1" font-weight="900" font-family='"Liberation Sans","Noto Sans CJK SC",sans-serif' text-anchor="start" fill="#111" textLength="14.34" lengthAdjust="spacingAndGlyphs" stroke="#111" stroke-width="0.3">型槽钢</text>
<line x1="220" y1="214.4" x2="214.03" y2="217.88" stroke="#1c1c1c" stroke-width="0.7" />
<path d="M210.4 220L213.47 216.93L214.58 218.83Z" fill="#1c1c1c"/>
<text x="153.5" y="258.1" font-size="8.3" font-weight="900" font-family='"Liberation Serif","Noto Serif CJK SC",serif' text-anchor="middle" fill="#111" textLength="36.8" lengthAdjust="spacingAndGlyphs" stroke="#111" stroke-width="0.5">钢结构示意</text>
<circle cx="303.6" cy="213.6" r="44.2" stroke="#333" stroke-width="0.9" fill="none"/>
<clipPath id="circ"><circle cx="303.6" cy="213.6" r="43.800000000000004"/></clipPath>
<g clip-path="url(#circ)">
<g transform="translate(277.6,180.9) rotate(62.11)">
<rect x="0" y="4.4" width="32.92" height="2.2" rx="0" stroke="#333" stroke-width="0.5" fill="#ccc" />
<path d="M1 4.4v2.2M2.5 4.4v2.2M4 4.4v2.2M5.5 4.4v2.2M7 4.4v2.2M8.5 4.4v2.2M10 4.4v2.2M11.5 4.4v2.2M13 4.4v2.2M14.5 4.4v2.2M16 4.4v2.2M17.5 4.4v2.2M19 4.4v2.2M20.5 4.4v2.2M22 4.4v2.2M23.5 4.4v2.2M25 4.4v2.2M26.5 4.4v2.2M28 4.4v2.2M29.5 4.4v2.2M31 4.4v2.2" stroke="#666" stroke-width="0.5" fill="none" />
<rect x="0" y="-4.4" width="32.92" height="8.8" rx="0" stroke="#1c1c1c" stroke-width="0.8" fill="#fff" />
<line x1="0" y1="-3.1" x2="32.92" y2="-3.1" stroke="#777" stroke-width="0.4" />
<ellipse cx="3.6" cy="-1" rx="1.8" ry="1.25" fill="#777" stroke="#222" stroke-width="0.6"/>
<ellipse cx="11.84" cy="-1" rx="1.8" ry="1.25" fill="#777" stroke="#222" stroke-width="0.6"/>
<ellipse cx="20.08" cy="-1" rx="1.8" ry="1.25" fill="#777" stroke="#222" stroke-width="0.6"/>
<ellipse cx="28.32" cy="-1" rx="1.8" ry="1.25" fill="#777" stroke="#222" stroke-width="0.6"/>
</g>
<g transform="translate(324.4,187.6) rotate(114.75)">
<rect x="0" y="-6.6" width="28.19" height="2.2" rx="0" stroke="#333" stroke-width="0.5" fill="#ccc" />
<path d="M1 -6.6v2.2M2.5 -6.6v2.2M4 -6.6v2.2M5.5 -6.6v2.2M7 -6.6v2.2M8.5 -6.6v2.2M10 -6.6v2.2M11.5 -6.6v2.2M13 -6.6v2.2M14.5 -6.6v2.2M16 -6.6v2.2M17.5 -6.6v2.2M19 -6.6v2.2M20.5 -6.6v2.2M22 -6.6v2.2M23.5 -6.6v2.2M25 -6.6v2.2M26.5 -6.6v2.2" stroke="#666" stroke-width="0.5" fill="none" />
<rect x="0" y="-4.4" width="28.19" height="8.8" rx="0" stroke="#1c1c1c" stroke-width="0.8" fill="#fff" />
<line x1="0" y1="3.1" x2="28.19" y2="3.1" stroke="#777" stroke-width="0.4" />
<ellipse cx="3.6" cy="1" rx="1.8" ry="1.25" fill="#777" stroke="#222" stroke-width="0.6"/>
<ellipse cx="10.26" cy="1" rx="1.8" ry="1.25" fill="#777" stroke="#222" stroke-width="0.6"/>
<ellipse cx="16.93" cy="1" rx="1.8" ry="1.25" fill="#777" stroke="#222" stroke-width="0.6"/>
<ellipse cx="23.59" cy="1" rx="1.8" ry="1.25" fill="#777" stroke="#222" stroke-width="0.6"/>
</g>
<rect x="297" y="165" width="11" height="58" rx="0" stroke="#1c1c1c" stroke-width="0.8" fill="#fff" />
<rect x="302.6" y="165" width="5.4" height="58" rx="0" stroke="none" stroke-width="0" fill="#dcdcdc" />
<path d="M297 223 L302.4 227 L308 223" stroke="#1c1c1c" stroke-width="0.7" fill="#ddd" />
<line x1="298.6" y1="165" x2="298.6" y2="223" stroke="#777" stroke-width="0.4" />
<line x1="300.4" y1="165" x2="300.4" y2="223" stroke="#333" stroke-width="0.8" />
<line x1="302.4" y1="165" x2="302.4" y2="223" stroke="#666" stroke-width="0.5" />
<line x1="304.4" y1="165" x2="304.4" y2="223" stroke="#f4f4f4" stroke-width="0.4" />
<line x1="306.3" y1="165" x2="306.3" y2="223" stroke="#777" stroke-width="0.6" />
<line x1="297" y1="165" x2="297" y2="223" stroke="#222" stroke-width="1.0" />
<line x1="308" y1="165" x2="308" y2="223" stroke="#222" stroke-width="0.9" />
<path d="M289.4 212.4 L295.4 209.4 L297.4 212.6 L295.8 216 L296.6 222 L294 224.6 L290 222.6 L289.2 217.6 Z" stroke="#222" stroke-width="0.7" fill="#fff" />
<path d="M316.8 214.6 L310.8 211.6 L308.6 214.6 L310.2 218 L311.2 222.4 L314.4 224 L317.4 221.6 L317.6 217.6 Z" stroke="#222" stroke-width="0.7" fill="#fff" />
<ellipse cx="292.3" cy="220.6" rx="1.9" ry="2.5" fill="#333" stroke="#111" stroke-width="0.6" transform="rotate(-20 292.3 220.6)"/>
<ellipse cx="315" cy="220.4" rx="1.7" ry="2.5" fill="#222" stroke="#111" stroke-width="0.6" transform="rotate(15 315 220.4)"/>
<rect x="299.4" y="213.6" width="1.8" height="7" rx="0" stroke="#333" stroke-width="0.5" fill="#fff" />
<rect x="309" y="212.6" width="1.6" height="5" rx="0" stroke="#333" stroke-width="0.5" fill="#888" />
<path d="M296.2 223.4 L296.6 229 L302.4 233 L310.6 228 L311.2 221.8" stroke="#222" stroke-width="0.8" fill="none" />
<path d="M296.6 229 L304.4 226.4 L310.6 228 M302.4 233 V236.6" stroke="#333" stroke-width="0.6" fill="none" />
<path d="M281.1 242.3 L313.6 227.9 L315.7 229 L315.7 235.6 L287.8 250.8 L281.1 248.6 Z" stroke="#222" stroke-width="0.9" fill="#fff" />
<path d="M281.1 242.3 L287.8 244.6 L315.7 229.4 M287.8 244.6 V250.8 M283 243 L314.6 228.5 M284.6 243.6 L284.6 249.6 M284.6 245.8 L287.8 246.9 M287.8 246.8 L315.7 231.8 M287.8 248.6 L315.7 233.6" stroke="#444" stroke-width="0.5" fill="none" />
<path d="M299.4 232.6 L303.4 229.8 L309 232 L304.6 235.2 Z" stroke="#222" stroke-width="0.7" fill="#999" />
<circle cx="304.2" cy="232.4" r="1" stroke="#1c1c1c" stroke-width="0.4" fill="#222"/>
<rect x="302.6" y="238.4" width="1.8" height="16" rx="0" stroke="#666" stroke-width="0.5" fill="#ddd" />
</g>
<line x1="346.6" y1="197.2" x2="357.96" y2="190.69" stroke="#1c1c1c" stroke-width="0.7" />
<path d="M361.6 188.6L358.5 191.64L357.41 189.73Z" fill="#1c1c1c"/>
<path d="M395.5 236 H474 L479 250.6 V221 L485 236 H561" stroke="#1c1c1c" stroke-width="0.9" fill="none" />
<path d="M395.5 315.4 H474 L479 330 V300.6 L485 315.4 H561" stroke="#1c1c1c" stroke-width="0.9" fill="none" />
<line x1="412.7" y1="236" x2="412.7" y2="315.4" stroke="#1c1c1c" stroke-width="0.9" />
<line x1="540.4" y1="236" x2="540.4" y2="315.4" stroke="#1c1c1c" stroke-width="0.9" />
<rect x="373.9" y="270" width="38.7" height="9.4" rx="0" stroke="#1c1c1c" stroke-width="1.0" fill="#fff" />
<line x1="373.9" y1="271.3" x2="412.6" y2="271.3" stroke="#666" stroke-width="0.4" />
<line x1="373.9" y1="278.1" x2="412.6" y2="278.1" stroke="#666" stroke-width="0.4" />
<rect x="389.8" y="272" width="10.9" height="5.6" rx="2.8" stroke="#1c1c1c" stroke-width="0.6" fill="#fff" />
<rect x="407.1" y="272" width="7.4" height="5.6" rx="2.8" stroke="#1c1c1c" stroke-width="0.6" fill="#fff" />
<rect x="412.2" y="270.6" width="3" height="8.2" rx="0" stroke="none" stroke-width="0" fill="#fff" />
<rect x="373.9" y="270.4" width="9.9" height="8.6" rx="0" stroke="#111" stroke-width="0.7" fill="#fff" />
<rect x="374.7" y="271.3" width="5.6" height="6.8" rx="0" stroke="#1c1c1c" stroke-width="0.5" fill="#222" />
<rect x="376.1" y="272.8" width="2.8" height="3.8" rx="0" stroke="#1c1c1c" stroke-width="0.4" fill="#ddd" />
<line x1="381" y1="270.4" x2="381" y2="279" stroke="#111" stroke-width="0.9" />
<line x1="383.1" y1="270.4" x2="383.1" y2="279" stroke="#111" stroke-width="0.9" />
<rect x="383.8" y="273.3" width="6.2" height="3" rx="0" stroke="#1c1c1c" stroke-width="0.4" fill="#222" />
<rect x="539.8" y="269.9" width="48.9" height="10.4" rx="0" stroke="#1c1c1c" stroke-width="1.0" fill="#fff" />
<line x1="539.8" y1="271.2" x2="588.7" y2="271.2" stroke="#666" stroke-width="0.4" />
<line x1="539.8" y1="279" x2="588.7" y2="279" stroke="#666" stroke-width="0.4" />
<rect x="537" y="272.3" width="8" height="5.6" rx="2.8" stroke="#1c1c1c" stroke-width="0.6" fill="#fff" />
<rect x="536.5" y="270.6" width="3.2" height="9" rx="0" stroke="none" stroke-width="0" fill="#fff" />
<rect x="551.5" y="272.3" width="11.3" height="5.6" rx="2.8" stroke="#1c1c1c" stroke-width="0.6" fill="#fff" />
<rect x="562.8" y="273.6" width="6.2" height="3" rx="0" stroke="#1c1c1c" stroke-width="0.4" fill="#222" />
<g transform="translate(1149.2,0) scale(-1,1)">
<rect x="570.3" y="270.8" width="9.9" height="8.6" rx="0" stroke="#111" stroke-width="0.7" fill="#fff" />
<rect x="571.1" y="271.7" width="5.6" height="6.8" rx="0" stroke="#1c1c1c" stroke-width="0.5" fill="#222" />
<rect x="572.5" y="273.2" width="2.8" height="3.8" rx="0" stroke="#1c1c1c" stroke-width="0.4" fill="#ddd" />
<line x1="577.4" y1="270.8" x2="577.4" y2="279.4" stroke="#111" stroke-width="0.9" />
<line x1="579.5" y1="270.8" x2="579.5" y2="279.4" stroke="#111" stroke-width="0.9" />
</g>
<line x1="412.7" y1="236" x2="412.7" y2="315.4" stroke="#1c1c1c" stroke-width="0.9" />
<line x1="540.4" y1="236" x2="540.4" y2="315.4" stroke="#1c1c1c" stroke-width="0.9" />
<g transform="translate(242.9,274.9) rotate(0)">
<path d="M2.6 -2.5 L8.6 -0.9 V0.9 L2.6 2.5" stroke="#555" stroke-width="0.6" fill="#fff" />
<circle cx="0" cy="0" r="3.6" stroke="#555" stroke-width="0.7" fill="#fff"/>
<circle cx="0" cy="0" r="1.5" stroke="#444" stroke-width="0.6" fill="#fff"/>
</g>
<g transform="translate(254.1,274.6) rotate(0)">
<rect x="-2.3" y="-3.6" width="4.6" height="6.2" rx="0" stroke="#222" stroke-width="0.6" fill="#fff" />
<rect x="-1.7" y="-6" width="3.4" height="2.6" rx="0" stroke="#1c1c1c" stroke-width="0.4" fill="#111" />
<line x1="-2.3" y1="-0.4" x2="2.3" y2="-0.4" stroke="#333" stroke-width="0.5" />
<line x1="-2.3" y1="1.2" x2="2.3" y2="1.2" stroke="#555" stroke-width="0.4" />
<rect x="-1.2" y="-2.6" width="2.4" height="1.6" rx="0" stroke="#1c1c1c" stroke-width="0.3" fill="#444" />
</g>
<path d="M256.4 274.6 L258.8 275 M256.4 275.6 L258.8 275.2" stroke="#222" stroke-width="0.7" fill="none" />
<path d="M251.5 274 L251.9 274 M251.5 275.8 L251.9 275.8" stroke="#1c1c1c" stroke-width="0.5" fill="none" />
<g transform="translate(263.3,275) rotate(0)">
<clipPath id="ps1"><rect x="0" y="-3.7" width="93.2" height="7.4"/></clipPath>
<path d="M0 -3.7 L-4.6 0 L0 3.7 M93.2 -3.7 L97.8 0 L93.2 3.7" stroke="#222" stroke-width="0.8" fill="#fff" />
<rect x="0" y="-3.7" width="93.2" height="7.4" rx="0" stroke="#222" stroke-width="1.1" fill="#fff" />
<line x1="0" y1="-2.2" x2="93.2" y2="-2.2" stroke="#555" stroke-width="0.4" />
<line x1="0" y1="2.2" x2="93.2" y2="2.2" stroke="#555" stroke-width="0.4" />
<g clip-path="url(#ps1)">
<circle cx="0.75" cy="0" r="2.55" stroke="#222" stroke-width="0.85" fill="#fff"/>
<circle cx="10.2" cy="0" r="2.55" stroke="#222" stroke-width="0.85" fill="#fff"/>
<path d="M13.32 -3.1 L16.52 -3.1 L14.92 -0.6 Z M13.32 3.1 L16.52 3.1 L14.92 0.6 Z" stroke="#777" stroke-width="0.3" fill="#999" />
<circle cx="19.65" cy="0" r="2.55" stroke="#222" stroke-width="0.85" fill="#fff"/>
<path d="M22.77 -3.1 L25.98 -3.1 L24.38 -0.6 Z M22.77 3.1 L25.98 3.1 L24.38 0.6 Z" stroke="#777" stroke-width="0.3" fill="#999" />
<circle cx="29.1" cy="0" r="2.55" stroke="#222" stroke-width="0.85" fill="#fff"/>
<path d="M32.22 -3.1 L35.42 -3.1 L33.82 -0.6 Z M32.22 3.1 L35.42 3.1 L33.82 0.6 Z" stroke="#777" stroke-width="0.3" fill="#999" />
<circle cx="38.55" cy="0" r="2.55" stroke="#222" stroke-width="0.85" fill="#fff"/>
<path d="M41.67 -3.1 L44.88 -3.1 L43.27 -0.6 Z M41.67 3.1 L44.88 3.1 L43.27 0.6 Z" stroke="#777" stroke-width="0.3" fill="#999" />
<circle cx="48" cy="0" r="2.55" stroke="#222" stroke-width="0.85" fill="#fff"/>
<path d="M51.12 -3.1 L54.33 -3.1 L52.73 -0.6 Z M51.12 3.1 L54.33 3.1 L52.73 0.6 Z" stroke="#777" stroke-width="0.3" fill="#999" />
<circle cx="57.45" cy="0" r="2.55" stroke="#222" stroke-width="0.85" fill="#fff"/>
<path d="M60.58 -3.1 L63.78 -3.1 L62.18 -0.6 Z M60.58 3.1 L63.78 3.1 L62.18 0.6 Z" stroke="#777" stroke-width="0.3" fill="#999" />
<circle cx="66.9" cy="0" r="2.55" stroke="#222" stroke-width="0.85" fill="#fff"/>
<path d="M70.02 -3.1 L73.22 -3.1 L71.62 -0.6 Z M70.02 3.1 L73.22 3.1 L71.62 0.6 Z" stroke="#777" stroke-width="0.3" fill="#999" />
<circle cx="76.35" cy="0" r="2.55" stroke="#222" stroke-width="0.85" fill="#fff"/>
<path d="M79.47 -3.1 L82.67 -3.1 L81.07 -0.6 Z M79.47 3.1 L82.67 3.1 L81.07 0.6 Z" stroke="#777" stroke-width="0.3" fill="#999" />
<circle cx="85.8" cy="0" r="2.55" stroke="#222" stroke-width="0.85" fill="#fff"/>
<circle cx="95.25" cy="0" r="2.55" stroke="#222" stroke-width="0.85" fill="#fff"/>
</g>
<rect x="0" y="-4.6" width="9.6" height="9.2" rx="1" stroke="#222" stroke-width="0.6" fill="none" />
<line x1="0.4" y1="-4.3" x2="9.2" y2="-4.3" stroke="#1a1a1a" stroke-width="1.5" />
<line x1="0.4" y1="4.3" x2="9.2" y2="4.3" stroke="#1a1a1a" stroke-width="1.5" />
<rect x="83.6" y="-4.6" width="9.6" height="9.2" rx="1" stroke="#222" stroke-width="0.6" fill="none" />
<line x1="84" y1="-4.3" x2="92.8" y2="-4.3" stroke="#1a1a1a" stroke-width="1.5" />
<line x1="84" y1="4.3" x2="92.8" y2="4.3" stroke="#1a1a1a" stroke-width="1.5" />
</g>
<path d="M361 275 L363.4 274.8" stroke="#222" stroke-width="0.8" fill="none" />
<g transform="translate(365.7,274.6) rotate(0)">
<rect x="-2.3" y="-3.6" width="4.6" height="6.2" rx="0" stroke="#222" stroke-width="0.6" fill="#fff" />
<rect x="-1.7" y="-6" width="3.4" height="2.6" rx="0" stroke="#1c1c1c" stroke-width="0.4" fill="#111" />
<line x1="-2.3" y1="-0.4" x2="2.3" y2="-0.4" stroke="#333" stroke-width="0.5" />
<line x1="-2.3" y1="1.2" x2="2.3" y2="1.2" stroke="#555" stroke-width="0.4" />
<rect x="-1.2" y="-2.6" width="2.4" height="1.6" rx="0" stroke="#1c1c1c" stroke-width="0.3" fill="#444" />
</g>
<path d="M368 274.2 L373 272.4 M368 275.8 L373 277.4" stroke="#222" stroke-width="0.7" fill="none" />
<g transform="translate(375.7,286) rotate(-90)">
<rect x="-2.3" y="-3.6" width="4.6" height="6.2" rx="0" stroke="#222" stroke-width="0.6" fill="#fff" />
<rect x="-1.7" y="-6" width="3.4" height="2.6" rx="0" stroke="#1c1c1c" stroke-width="0.4" fill="#111" />
<line x1="-2.3" y1="-0.4" x2="2.3" y2="-0.4" stroke="#333" stroke-width="0.5" />
<line x1="-2.3" y1="1.2" x2="2.3" y2="1.2" stroke="#555" stroke-width="0.4" />
<rect x="-1.2" y="-2.6" width="2.4" height="1.6" rx="0" stroke="#1c1c1c" stroke-width="0.3" fill="#444" />
</g>
<path d="M376.9 288.3 V288.8 M376.9 280 V283.7" stroke="#222" stroke-width="0.8" fill="none" />
<g transform="translate(376.9,293.4) rotate(90)">
<clipPath id="ps2"><rect x="0" y="-3.7" width="59.5" height="7.4"/></clipPath>
<path d="M0 -3.7 L-4.6 0 L0 3.7 M59.5 -3.7 L64.1 0 L59.5 3.7" stroke="#222" stroke-width="0.8" fill="#fff" />
<rect x="0" y="-3.7" width="59.5" height="7.4" rx="0" stroke="#222" stroke-width="1.1" fill="#fff" />
<line x1="0" y1="-2.2" x2="59.5" y2="-2.2" stroke="#555" stroke-width="0.4" />
<line x1="0" y1="2.2" x2="59.5" y2="2.2" stroke="#555" stroke-width="0.4" />
<g clip-path="url(#ps2)">
<circle cx="-2.65" cy="0" r="2.55" stroke="#222" stroke-width="0.85" fill="#fff"/>
<circle cx="6.8" cy="0" r="2.55" stroke="#222" stroke-width="0.85" fill="#fff"/>
<path d="M9.92 -3.1 L13.12 -3.1 L11.52 -0.6 Z M9.92 3.1 L13.12 3.1 L11.52 0.6 Z" stroke="#777" stroke-width="0.3" fill="#999" />
<circle cx="16.25" cy="0" r="2.55" stroke="#222" stroke-width="0.85" fill="#fff"/>
<path d="M19.38 -3.1 L22.58 -3.1 L20.98 -0.6 Z M19.38 3.1 L22.58 3.1 L20.98 0.6 Z" stroke="#777" stroke-width="0.3" fill="#999" />
<circle cx="25.7" cy="0" r="2.55" stroke="#222" stroke-width="0.85" fill="#fff"/>
<path d="M28.82 -3.1 L32.02 -3.1 L30.42 -0.6 Z M28.82 3.1 L32.02 3.1 L30.42 0.6 Z" stroke="#777" stroke-width="0.3" fill="#999" />
<circle cx="35.15" cy="0" r="2.55" stroke="#222" stroke-width="0.85" fill="#fff"/>
<path d="M38.27 -3.1 L41.48 -3.1 L39.88 -0.6 Z M38.27 3.1 L41.48 3.1 L39.88 0.6 Z" stroke="#777" stroke-width="0.3" fill="#999" />
<circle cx="44.6" cy="0" r="2.55" stroke="#222" stroke-width="0.85" fill="#fff"/>
<path d="M47.72 -3.1 L50.92 -3.1 L49.32 -0.6 Z M47.72 3.1 L50.92 3.1 L49.32 0.6 Z" stroke="#777" stroke-width="0.3" fill="#999" />
<circle cx="54.05" cy="0" r="2.55" stroke="#222" stroke-width="0.85" fill="#fff"/>
<circle cx="63.5" cy="0" r="2.55" stroke="#222" stroke-width="0.85" fill="#fff"/>
</g>
<rect x="0" y="-4.6" width="9.6" height="9.2" rx="1" stroke="#222" stroke-width="0.6" fill="none" />
<line x1="0.4" y1="-4.3" x2="9.2" y2="-4.3" stroke="#1a1a1a" stroke-width="1.5" />
<line x1="0.4" y1="4.3" x2="9.2" y2="4.3" stroke="#1a1a1a" stroke-width="1.5" />
<rect x="49.9" y="-4.6" width="9.6" height="9.2" rx="1" stroke="#222" stroke-width="0.6" fill="none" />
<line x1="50.3" y1="-4.3" x2="59.1" y2="-4.3" stroke="#1a1a1a" stroke-width="1.5" />
<line x1="50.3" y1="4.3" x2="59.1" y2="4.3" stroke="#1a1a1a" stroke-width="1.5" />
</g>
<path d="M376.9 357.5 V359.7" stroke="#222" stroke-width="0.8" fill="none" />
<g transform="translate(375.7,362) rotate(-90)">
<rect x="-2.3" y="-3.6" width="4.6" height="6.2" rx="0" stroke="#222" stroke-width="0.6" fill="#fff" />
<rect x="-1.7" y="-6" width="3.4" height="2.6" rx="0" stroke="#1c1c1c" stroke-width="0.4" fill="#111" />
<line x1="-2.3" y1="-0.4" x2="2.3" y2="-0.4" stroke="#333" stroke-width="0.5" />
<line x1="-2.3" y1="1.2" x2="2.3" y2="1.2" stroke="#555" stroke-width="0.4" />
<rect x="-1.2" y="-2.6" width="2.4" height="1.6" rx="0" stroke="#1c1c1c" stroke-width="0.3" fill="#444" />
</g>
<g transform="translate(376.9,373.4) rotate(-90)">
<path d="M2.6 -2.5 L8.6 -0.9 V0.9 L2.6 2.5" stroke="#555" stroke-width="0.6" fill="#fff" />
<circle cx="0" cy="0" r="3.6" stroke="#555" stroke-width="0.7" fill="#fff"/>
<circle cx="0" cy="0" r="1.5" stroke="#444" stroke-width="0.6" fill="#fff"/>
</g>
<g transform="translate(574.7,285.9) rotate(-90)">
<rect x="-2.3" y="-3.6" width="4.6" height="6.2" rx="0" stroke="#222" stroke-width="0.6" fill="#fff" />
<rect x="-1.7" y="-6" width="3.4" height="2.6" rx="0" stroke="#1c1c1c" stroke-width="0.4" fill="#111" />
<line x1="-2.3" y1="-0.4" x2="2.3" y2="-0.4" stroke="#333" stroke-width="0.5" />
<line x1="-2.3" y1="1.2" x2="2.3" y2="1.2" stroke="#555" stroke-width="0.4" />
<rect x="-1.2" y="-2.6" width="2.4" height="1.6" rx="0" stroke="#1c1c1c" stroke-width="0.3" fill="#444" />
</g>
<path d="M575.9 288.2 V289.4 M575.9 279.9 V283.6" stroke="#222" stroke-width="0.8" fill="none" />
<g transform="translate(575.9,294) rotate(90)">
<clipPath id="ps3"><rect x="0" y="-3.7" width="58.6" height="7.4"/></clipPath>
<path d="M0 -3.7 L-4.6 0 L0 3.7 M58.6 -3.7 L63.2 0 L58.6 3.7" stroke="#222" stroke-width="0.8" fill="#fff" />
<rect x="0" y="-3.7" width="58.6" height="7.4" rx="0" stroke="#222" stroke-width="1.1" fill="#fff" />
<line x1="0" y1="-2.2" x2="58.6" y2="-2.2" stroke="#555" stroke-width="0.4" />
<line x1="0" y1="2.2" x2="58.6" y2="2.2" stroke="#555" stroke-width="0.4" />
<g clip-path="url(#ps3)">
<circle cx="-2.65" cy="0" r="2.55" stroke="#222" stroke-width="0.85" fill="#fff"/>
<circle cx="6.8" cy="0" r="2.55" stroke="#222" stroke-width="0.85" fill="#fff"/>
<path d="M9.92 -3.1 L13.12 -3.1 L11.52 -0.6 Z M9.92 3.1 L13.12 3.1 L11.52 0.6 Z" stroke="#777" stroke-width="0.3" fill="#999" />
<circle cx="16.25" cy="0" r="2.55" stroke="#222" stroke-width="0.85" fill="#fff"/>
<path d="M19.38 -3.1 L22.58 -3.1 L20.98 -0.6 Z M19.38 3.1 L22.58 3.1 L20.98 0.6 Z" stroke="#777" stroke-width="0.3" fill="#999" />
<circle cx="25.7" cy="0" r="2.55" stroke="#222" stroke-width="0.85" fill="#fff"/>
<path d="M28.82 -3.1 L32.02 -3.1 L30.42 -0.6 Z M28.82 3.1 L32.02 3.1 L30.42 0.6 Z" stroke="#777" stroke-width="0.3" fill="#999" />
<circle cx="35.15" cy="0" r="2.55" stroke="#222" stroke-width="0.85" fill="#fff"/>
<path d="M38.27 -3.1 L41.48 -3.1 L39.88 -0.6 Z M38.27 3.1 L41.48 3.1 L39.88 0.6 Z" stroke="#777" stroke-width="0.3" fill="#999" />
<circle cx="44.6" cy="0" r="2.55" stroke="#222" stroke-width="0.85" fill="#fff"/>
<path d="M47.72 -3.1 L50.92 -3.1 L49.32 -0.6 Z M47.72 3.1 L50.92 3.1 L49.32 0.6 Z" stroke="#777" stroke-width="0.3" fill="#999" />
<circle cx="54.05" cy="0" r="2.55" stroke="#222" stroke-width="0.85" fill="#fff"/>
<circle cx="63.5" cy="0" r="2.55" stroke="#222" stroke-width="0.85" fill="#fff"/>
</g>
<rect x="0" y="-4.6" width="9.6" height="9.2" rx="1" stroke="#222" stroke-width="0.6" fill="none" />
<line x1="0.4" y1="-4.3" x2="9.2" y2="-4.3" stroke="#1a1a1a" stroke-width="1.5" />
<line x1="0.4" y1="4.3" x2="9.2" y2="4.3" stroke="#1a1a1a" stroke-width="1.5" />
<rect x="49" y="-4.6" width="9.6" height="9.2" rx="1" stroke="#222" stroke-width="0.6" fill="none" />
<line x1="49.4" y1="-4.3" x2="58.2" y2="-4.3" stroke="#1a1a1a" stroke-width="1.5" />
<line x1="49.4" y1="4.3" x2="58.2" y2="4.3" stroke="#1a1a1a" stroke-width="1.5" />
</g>
<path d="M575.9 357.2 V360.3" stroke="#222" stroke-width="0.8" fill="none" />
<g transform="translate(574.7,362.6) rotate(-90)">
<rect x="-2.3" y="-3.6" width="4.6" height="6.2" rx="0" stroke="#222" stroke-width="0.6" fill="#fff" />
<rect x="-1.7" y="-6" width="3.4" height="2.6" rx="0" stroke="#1c1c1c" stroke-width="0.4" fill="#111" />
<line x1="-2.3" y1="-0.4" x2="2.3" y2="-0.4" stroke="#333" stroke-width="0.5" />
<line x1="-2.3" y1="1.2" x2="2.3" y2="1.2" stroke="#555" stroke-width="0.4" />
<rect x="-1.2" y="-2.6" width="2.4" height="1.6" rx="0" stroke="#1c1c1c" stroke-width="0.3" fill="#444" />
</g>
<g transform="translate(575.9,372.2) rotate(-90)">
<path d="M2.6 -2.5 L8.6 -0.9 V0.9 L2.6 2.5" stroke="#555" stroke-width="0.6" fill="#fff" />
<circle cx="0" cy="0" r="3.6" stroke="#555" stroke-width="0.7" fill="#fff"/>
<circle cx="0" cy="0" r="1.5" stroke="#444" stroke-width="0.6" fill="#fff"/>
</g>
<text x="190.5" y="283.57" font-size="6.1" font-weight="900" font-family='"Liberation Sans","Noto Sans CJK SC",sans-serif' text-anchor="start" fill="#111" textLength="20" lengthAdjust="spacingAndGlyphs" stroke="#111" stroke-width="0.3">抗震铰链</text>
<line x1="211" y1="280.6" x2="233.28" y2="276.21" stroke="#1c1c1c" stroke-width="0.7" />
<path d="M237.4 275.4L233.49 277.29L233.07 275.13Z" fill="#1c1c1c"/>
<text x="253" y="298.45" font-size="7.8" font-weight="bold" font-family='"Liberation Sans","Noto Sans CJK SC",sans-serif' text-anchor="start" fill="#111" textLength="13.05" lengthAdjust="spacingAndGlyphs" stroke="#111" stroke-width="0.35">41*41</text>
<text x="266.55" y="297.77" font-size="6.1" font-weight="900" font-family='"Liberation Sans","Noto Sans CJK SC",sans-serif' text-anchor="start" fill="#111" textLength="9.85" lengthAdjust="spacingAndGlyphs" stroke="#111" stroke-width="0.3">冲孔</text>
<text x="276.4" y="298.45" font-size="7.8" font-weight="bold" font-family='"Liberation Sans","Noto Sans CJK SC",sans-serif' text-anchor="start" fill="#111" textLength="2.75" lengthAdjust="spacingAndGlyphs" stroke="#111" stroke-width="0.35">C</text>
<text x="279.65" y="297.77" font-size="6.1" font-weight="900" font-family='"Liberation Sans","Noto Sans CJK SC",sans-serif' text-anchor="start" fill="#111" textLength="9.85" lengthAdjust="spacingAndGlyphs" stroke="#111" stroke-width="0.3">型钢</text>
<line x1="280" y1="291.4" x2="298.88" y2="281.54" stroke="#1c1c1c" stroke-width="0.7" />
<path d="M302.6 279.6L299.39 282.52L298.37 280.57Z" fill="#1c1c1c"/>
<text x="333" y="299.77" font-size="6.1" font-weight="900" font-family='"Liberation Sans","Noto Sans CJK SC",sans-serif' text-anchor="start" fill="#111" textLength="21" lengthAdjust="spacingAndGlyphs" stroke="#111" stroke-width="0.3">抗震铰链</text>
<path d="M354.5 297 L357 296.4" stroke="#1c1c1c" stroke-width="0.7" fill="none" />
<line x1="357" y1="296.4" x2="361.29" y2="283.39" stroke="#1c1c1c" stroke-width="0.7" />
<path d="M362.6 279.4L362.33 283.73L360.24 283.04Z" fill="#1c1c1c"/>
<line x1="357" y1="296.4" x2="370.97" y2="292.37" stroke="#1c1c1c" stroke-width="0.7" />
<path d="M375 291.2L371.27 293.42L370.66 291.31Z" fill="#1c1c1c"/>
<text x="319" y="325.45" font-size="7.8" font-weight="bold" font-family='"Liberation Sans","Noto Sans CJK SC",sans-serif' text-anchor="start" fill="#111" textLength="12.86" lengthAdjust="spacingAndGlyphs" stroke="#111" stroke-width="0.35">41*41</text>
<text x="332.36" y="324.77" font-size="6.1" font-weight="900" font-family='"Liberation Sans","Noto Sans CJK SC",sans-serif' text-anchor="start" fill="#111" textLength="9.72" lengthAdjust="spacingAndGlyphs" stroke="#111" stroke-width="0.3">冲孔</text>
<text x="342.08" y="325.45" font-size="7.8" font-weight="bold" font-family='"Liberation Sans","Noto Sans CJK SC",sans-serif' text-anchor="start" fill="#111" textLength="2.71" lengthAdjust="spacingAndGlyphs" stroke="#111" stroke-width="0.35">C</text>
<text x="345.28" y="324.77" font-size="6.1" font-weight="900" font-family='"Liberation Sans","Noto Sans CJK SC",sans-serif' text-anchor="start" fill="#111" textLength="9.72" lengthAdjust="spacingAndGlyphs" stroke="#111" stroke-width="0.3">型钢</text>
<line x1="355.5" y1="321.6" x2="368.65" y2="316.83" stroke="#1c1c1c" stroke-width="0.7" />
<path d="M372.6 315.4L369.03 317.87L368.28 315.8Z" fill="#1c1c1c"/>
<text x="334.5" y="362.77" font-size="6.1" font-weight="900" font-family='"Liberation Sans","Noto Sans CJK SC",sans-serif' text-anchor="start" fill="#111" textLength="20.5" lengthAdjust="spacingAndGlyphs" stroke="#111" stroke-width="0.3">抗震铰链</text>
<line x1="355.5" y1="360" x2="368.53" y2="356.65" stroke="#1c1c1c" stroke-width="0.7" />
<path d="M372.6 355.6L368.81 357.71L368.26 355.58Z" fill="#1c1c1c"/>
<text x="575" y="264.05" font-size="7.8" font-weight="bold" font-family='"Liberation Sans","Noto Sans CJK SC",sans-serif' text-anchor="start" fill="#111" textLength="12.86" lengthAdjust="spacingAndGlyphs" stroke="#111" stroke-width="0.35">41*41</text>
<text x="588.36" y="263.37" font-size="6.1" font-weight="900" font-family='"Liberation Sans","Noto Sans CJK SC",sans-serif' text-anchor="start" fill="#111" textLength="9.72" lengthAdjust="spacingAndGlyphs" stroke="#111" stroke-width="0.3">冲孔</text>
<text x="598.08" y="264.05" font-size="7.8" font-weight="bold" font-family='"Liberation Sans","Noto Sans CJK SC",sans-serif' text-anchor="start" fill="#111" textLength="2.71" lengthAdjust="spacingAndGlyphs" stroke="#111" stroke-width="0.35">C</text>
<text x="601.28" y="263.37" font-size="6.1" font-weight="900" font-family='"Liberation Sans","Noto Sans CJK SC",sans-serif' text-anchor="start" fill="#111" textLength="9.72" lengthAdjust="spacingAndGlyphs" stroke="#111" stroke-width="0.3">型钢</text>
<line x1="575" y1="262.4" x2="554.43" y2="268.42" stroke="#1c1c1c" stroke-width="0.7" />
<path d="M550.4 269.6L554.12 267.36L554.74 269.48Z" fill="#1c1c1c"/>
<text x="447.3" y="398.2" font-size="11.7" font-weight="bold" font-family='"Liberation Sans","Noto Sans CJK SC",sans-serif' text-anchor="start" fill="#111" textLength="58" lengthAdjust="spacingAndGlyphs" >适用范围：</text>
<text x="507.6" y="398.2" font-size="11.7" font-weight="bold" font-family='"Liberation Sans","Noto Sans CJK SC",sans-serif' text-anchor="start" fill="#111" textLength="60.4" lengthAdjust="spacingAndGlyphs" >桥架总宽度</text>
<text x="568" y="398.2" font-size="12.6" font-weight="bold" font-family='"Liberation Sans","Noto Sans CJK SC",sans-serif' text-anchor="start" fill="#111" textLength="12.6" lengthAdjust="spacingAndGlyphs" >≤</text>
<text x="581.2" y="398.2" font-size="11.7" font-weight="bold" font-family='"Liberation Sans","Noto Sans CJK SC",sans-serif' text-anchor="start" fill="#111" textLength="23.4" lengthAdjust="spacingAndGlyphs" >1200</text>
<rect x="18.6" y="383.7" width="340" height="97.9" rx="0" stroke="#2a2a2a" stroke-width="0.9" fill="none" />
<line x1="18.6" y1="391.2" x2="358.6" y2="391.2" stroke="#2a2a2a" stroke-width="0.8" />
<line x1="18.6" y1="403.8" x2="358.6" y2="403.8" stroke="#2a2a2a" stroke-width="0.8" />
<line x1="18.6" y1="416.3" x2="358.6" y2="416.3" stroke="#2a2a2a" stroke-width="0.8" />
<line x1="18.6" y1="429.2" x2="358.6" y2="429.2" stroke="#2a2a2a" stroke-width="0.8" />
<line x1="18.6" y1="442" x2="358.6" y2="442" stroke="#2a2a2a" stroke-width="0.8" />
<line x1="18.6" y1="454.6" x2="358.6" y2="454.6" stroke="#2a2a2a" stroke-width="0.8" />
<line x1="18.6" y1="467.6" x2="358.6" y2="467.6" stroke="#2a2a2a" stroke-width="0.8" />
<line x1="31" y1="391.2" x2="31" y2="481.6" stroke="#2a2a2a" stroke-width="0.8" />
<line x1="82" y1="391.2" x2="82" y2="481.6" stroke="#2a2a2a" stroke-width="0.8" />
<line x1="110.5" y1="391.2" x2="110.5" y2="481.6" stroke="#2a2a2a" stroke-width="0.8" />
<line x1="124" y1="391.2" x2="124" y2="481.6" stroke="#2a2a2a" stroke-width="0.8" />
<line x1="159" y1="391.2" x2="159" y2="481.6" stroke="#2a2a2a" stroke-width="0.8" />
<line x1="183.4" y1="391.2" x2="183.4" y2="481.6" stroke="#2a2a2a" stroke-width="0.8" />
<line x1="196" y1="391.2" x2="196" y2="481.6" stroke="#2a2a2a" stroke-width="0.8" />
<line x1="254.6" y1="391.2" x2="254.6" y2="481.6" stroke="#2a2a2a" stroke-width="0.8" />
<line x1="285.5" y1="391.2" x2="285.5" y2="481.6" stroke="#2a2a2a" stroke-width="0.8" />
<line x1="298.6" y1="391.2" x2="298.6" y2="481.6" stroke="#2a2a2a" stroke-width="0.8" />
<line x1="333" y1="391.2" x2="333" y2="481.6" stroke="#2a2a2a" stroke-width="0.8" />
<text x="188" y="389.6" font-size="5.2" font-weight="900" font-family='"Liberation Sans","Noto Sans CJK SC",sans-serif' text-anchor="middle" fill="#111" textLength="20.5" lengthAdjust="spacingAndGlyphs" stroke="#111" stroke-width="0.32">材料清单</text>
<text x="24.8" y="399.41" font-size="5.3" font-weight="900" font-family='"Liberation Sans","Noto Sans CJK SC",sans-serif' text-anchor="middle" fill="#111" textLength="10.5" lengthAdjust="spacingAndGlyphs" stroke="#111" stroke-width="0.32">序号</text>
<text x="56.5" y="399.41" font-size="5.3" font-weight="900" font-family='"Liberation Sans","Noto Sans CJK SC",sans-serif' text-anchor="middle" fill="#111" textLength="10.5" lengthAdjust="spacingAndGlyphs" stroke="#111" stroke-width="0.32">品名</text>
<text x="96.25" y="399.41" font-size="5.3" font-weight="900" font-family='"Liberation Sans","Noto Sans CJK SC",sans-serif' text-anchor="middle" fill="#111" textLength="11" lengthAdjust="spacingAndGlyphs" stroke="#111" stroke-width="0.32">规格</text>
<text x="117.25" y="399.41" font-size="5.3" font-weight="900" font-family='"Liberation Sans","Noto Sans CJK SC",sans-serif' text-anchor="middle" fill="#111" textLength="11" lengthAdjust="spacingAndGlyphs" stroke="#111" stroke-width="0.32">单位</text>
<text x="141.5" y="399.41" font-size="5.3" font-weight="900" font-family='"Liberation Sans","Noto Sans CJK SC",sans-serif' text-anchor="middle" fill="#111" textLength="10.5" lengthAdjust="spacingAndGlyphs" stroke="#111" stroke-width="0.32">数量</text>
<text x="171.2" y="399.41" font-size="5.3" font-weight="900" font-family='"Liberation Sans","Noto Sans CJK SC",sans-serif' text-anchor="middle" fill="#111" textLength="10.8" lengthAdjust="spacingAndGlyphs" stroke="#111" stroke-width="0.32">备注</text>
<text x="189.7" y="399.41" font-size="5.3" font-weight="900" font-family='"Liberation Sans","Noto Sans CJK SC",sans-serif' text-anchor="middle" fill="#111" textLength="10.5" lengthAdjust="spacingAndGlyphs" stroke="#111" stroke-width="0.32">序号</text>
<text x="225.3" y="399.41" font-size="5.3" font-weight="900" font-family='"Liberation Sans","Noto Sans CJK SC",sans-serif' text-anchor="middle" fill="#111" textLength="10.5" lengthAdjust="spacingAndGlyphs" stroke="#111" stroke-width="0.32">品名</text>
<text x="270.05" y="399.41" font-size="5.3" font-weight="900" font-family='"Liberation Sans","Noto Sans CJK SC",sans-serif' text-anchor="middle" fill="#111" textLength="11" lengthAdjust="spacingAndGlyphs" stroke="#111" stroke-width="0.32">规格</text>
<text x="292.05" y="399.41" font-size="5.3" font-weight="900" font-family='"Liberation Sans","Noto Sans CJK SC",sans-serif' text-anchor="middle" fill="#111" textLength="11" lengthAdjust="spacingAndGlyphs" stroke="#111" stroke-width="0.32">单位</text>
<text x="315.8" y="399.41" font-size="5.3" font-weight="900" font-family='"Liberation Sans","Noto Sans CJK SC",sans-serif' text-anchor="middle" fill="#111" textLength="10.5" lengthAdjust="spacingAndGlyphs" stroke="#111" stroke-width="0.32">数量</text>
<text x="345.8" y="399.41" font-size="5.3" font-weight="900" font-family='"Liberation Sans","Noto Sans CJK SC",sans-serif' text-anchor="middle" fill="#111" textLength="10.8" lengthAdjust="spacingAndGlyphs" stroke="#111" stroke-width="0.32">备注</text>
<text x="24.8" y="412.53" font-size="6.9" font-weight="bold" font-family='"Liberation Sans","Noto Sans CJK SC",sans-serif' text-anchor="middle" fill="#111" textLength="3.2" lengthAdjust="spacingAndGlyphs" stroke="#111" stroke-width="0.2">1</text>
<text x="56.5" y="411.96" font-size="5.3" font-weight="900" font-family='"Liberation Sans","Noto Sans CJK SC",sans-serif' text-anchor="middle" fill="#111" textLength="26.8" lengthAdjust="spacingAndGlyphs" stroke="#111" stroke-width="0.32">后扩底锚栓</text>
<text x="96.25" y="412.53" font-size="6.9" font-weight="bold" font-family='"Liberation Sans","Noto Sans CJK SC",sans-serif' text-anchor="middle" fill="#111" textLength="12.5" lengthAdjust="spacingAndGlyphs" stroke="#111" stroke-width="0.2">M10</text>
<text x="117.25" y="411.96" font-size="5.3" font-weight="900" font-family='"Liberation Sans","Noto Sans CJK SC",sans-serif' text-anchor="middle" fill="#111" textLength="5.2" lengthAdjust="spacingAndGlyphs" stroke="#111" stroke-width="0.32">只</text>
<text x="141.5" y="412.53" font-size="6.9" font-weight="bold" font-family='"Liberation Sans","Noto Sans CJK SC",sans-serif' text-anchor="middle" fill="#111" textLength="3.2" lengthAdjust="spacingAndGlyphs" stroke="#111" stroke-width="0.2">5</text>
<text x="24.8" y="425.23" font-size="6.9" font-weight="bold" font-family='"Liberation Sans","Noto Sans CJK SC",sans-serif' text-anchor="middle" fill="#111" textLength="3.2" lengthAdjust="spacingAndGlyphs" stroke="#111" stroke-width="0.2">2</text>
<text x="56.5" y="424.66" font-size="5.3" font-weight="900" font-family='"Liberation Sans","Noto Sans CJK SC",sans-serif' text-anchor="middle" fill="#111" textLength="20.8" lengthAdjust="spacingAndGlyphs" stroke="#111" stroke-width="0.32">抗震铰链</text>
<text x="117.25" y="424.66" font-size="5.3" font-weight="900" font-family='"Liberation Sans","Noto Sans CJK SC",sans-serif' text-anchor="middle" fill="#111" textLength="5.2" lengthAdjust="spacingAndGlyphs" stroke="#111" stroke-width="0.32">套</text>
<text x="141.5" y="425.23" font-size="6.9" font-weight="bold" font-family='"Liberation Sans","Noto Sans CJK SC",sans-serif' text-anchor="middle" fill="#111" textLength="3.2" lengthAdjust="spacingAndGlyphs" stroke="#111" stroke-width="0.2">6</text>
<text x="24.8" y="438.08" font-size="6.9" font-weight="bold" font-family='"Liberation Sans","Noto Sans CJK SC",sans-serif' text-anchor="middle" fill="#111" textLength="3.2" lengthAdjust="spacingAndGlyphs" stroke="#111" stroke-width="0.2">3</text>
<text x="56.5" y="437.51" font-size="5.3" font-weight="900" font-family='"Liberation Sans","Noto Sans CJK SC",sans-serif' text-anchor="middle" fill="#111" textLength="24.3" lengthAdjust="spacingAndGlyphs" stroke="#111" stroke-width="0.32">冲孔C型钢</text>
<text x="96.25" y="438.08" font-size="6.9" font-weight="bold" font-family='"Liberation Sans","Noto Sans CJK SC",sans-serif' text-anchor="middle" fill="#111" textLength="13.5" lengthAdjust="spacingAndGlyphs" stroke="#111" stroke-width="0.2">41*41</text>
<text x="117.25" y="437.51" font-size="5.3" font-weight="900" font-family='"Liberation Sans","Noto Sans CJK SC",sans-serif' text-anchor="middle" fill="#111" textLength="5.2" lengthAdjust="spacingAndGlyphs" stroke="#111" stroke-width="0.32">米</text>
<text x="141.5" y="437.51" font-size="5.3" font-weight="900" font-family='"Liberation Sans","Noto Sans CJK SC",sans-serif' text-anchor="middle" fill="#111" textLength="32.5" lengthAdjust="spacingAndGlyphs" stroke="#111" stroke-width="0.32">根据具体情况</text>
<text x="171.2" y="433.9" font-size="5.2" font-weight="900" font-family='"Liberation Sans","Noto Sans CJK SC",sans-serif' text-anchor="middle" fill="#111" textLength="21.2" lengthAdjust="spacingAndGlyphs" stroke="#111" stroke-width="0.32">斜撑、立</text>
<text x="170.6" y="441.8" font-size="5.2" font-weight="900" font-family='"Liberation Sans","Noto Sans CJK SC",sans-serif' text-anchor="middle" fill="#111" textLength="17.8" lengthAdjust="spacingAndGlyphs" stroke="#111" stroke-width="0.32">柱、横梁</text>
<text x="24.8" y="450.78" font-size="6.9" font-weight="bold" font-family='"Liberation Sans","Noto Sans CJK SC",sans-serif' text-anchor="middle" fill="#111" textLength="3.2" lengthAdjust="spacingAndGlyphs" stroke="#111" stroke-width="0.2">4</text>
<text x="56.5" y="450.21" font-size="5.3" font-weight="900" font-family='"Liberation Sans","Noto Sans CJK SC",sans-serif' text-anchor="middle" fill="#111" textLength="20.8" lengthAdjust="spacingAndGlyphs" stroke="#111" stroke-width="0.32">加劲装置</text>
<text x="117.25" y="450.21" font-size="5.3" font-weight="900" font-family='"Liberation Sans","Noto Sans CJK SC",sans-serif' text-anchor="middle" fill="#111" textLength="5.2" lengthAdjust="spacingAndGlyphs" stroke="#111" stroke-width="0.32">只</text>
<text x="141.5" y="450.78" font-size="6.9" font-weight="bold" font-family='"Liberation Sans","Noto Sans CJK SC",sans-serif' text-anchor="middle" fill="#111" textLength="3.2" lengthAdjust="spacingAndGlyphs" stroke="#111" stroke-width="0.2">4</text>
<text x="24.8" y="463.58" font-size="6.9" font-weight="bold" font-family='"Liberation Sans","Noto Sans CJK SC",sans-serif' text-anchor="middle" fill="#111" textLength="3.2" lengthAdjust="spacingAndGlyphs" stroke="#111" stroke-width="0.2">5</text>
<text x="56.5" y="463.01" font-size="5.3" font-weight="900" font-family='"Liberation Sans","Noto Sans CJK SC",sans-serif' text-anchor="middle" fill="#111" textLength="20.8" lengthAdjust="spacingAndGlyphs" stroke="#111" stroke-width="0.32">型钢封头</text>
<text x="96.25" y="463.58" font-size="6.9" font-weight="bold" font-family='"Liberation Sans","Noto Sans CJK SC",sans-serif' text-anchor="middle" fill="#111" textLength="13.5" lengthAdjust="spacingAndGlyphs" stroke="#111" stroke-width="0.2">41*41</text>
<text x="117.25" y="463.01" font-size="5.3" font-weight="900" font-family='"Liberation Sans","Noto Sans CJK SC",sans-serif' text-anchor="middle" fill="#111" textLength="5.2" lengthAdjust="spacingAndGlyphs" stroke="#111" stroke-width="0.32">只</text>
<text x="141.5" y="463.58" font-size="6.9" font-weight="bold" font-family='"Liberation Sans","Noto Sans CJK SC",sans-serif' text-anchor="middle" fill="#111" textLength="3.2" lengthAdjust="spacingAndGlyphs" stroke="#111" stroke-width="0.2">6</text>
<text x="171.2" y="458.9" font-size="5.2" font-weight="900" font-family='"Liberation Sans","Noto Sans CJK SC",sans-serif' text-anchor="middle" fill="#111" textLength="22" lengthAdjust="spacingAndGlyphs" stroke="#111" stroke-width="0.32">根据具体</text>
<text x="170.8" y="466.2" font-size="5.2" font-weight="900" font-family='"Liberation Sans","Noto Sans CJK SC",sans-serif' text-anchor="middle" fill="#111" textLength="10" lengthAdjust="spacingAndGlyphs" stroke="#111" stroke-width="0.32">情况</text>
<text x="24.8" y="477.08" font-size="6.9" font-weight="bold" font-family='"Liberation Sans","Noto Sans CJK SC",sans-serif' text-anchor="middle" fill="#111" textLength="3.2" lengthAdjust="spacingAndGlyphs" stroke="#111" stroke-width="0.2">6</text>
<text x="56.5" y="476.51" font-size="5.3" font-weight="900" font-family='"Liberation Sans","Noto Sans CJK SC",sans-serif' text-anchor="middle" fill="#111" textLength="10.5" lengthAdjust="spacingAndGlyphs" stroke="#111" stroke-width="0.32">丝杆</text>
<text x="96.25" y="477.08" font-size="6.9" font-weight="bold" font-family='"Liberation Sans","Noto Sans CJK SC",sans-serif' text-anchor="middle" fill="#111" textLength="12.5" lengthAdjust="spacingAndGlyphs" stroke="#111" stroke-width="0.2">M10</text>
<text x="117.25" y="476.51" font-size="5.3" font-weight="900" font-family='"Liberation Sans","Noto Sans CJK SC",sans-serif' text-anchor="middle" fill="#111" textLength="5.2" lengthAdjust="spacingAndGlyphs" stroke="#111" stroke-width="0.32">米</text>
<text x="141.5" y="476.51" font-size="5.3" font-weight="900" font-family='"Liberation Sans","Noto Sans CJK SC",sans-serif' text-anchor="middle" fill="#111" textLength="32.5" lengthAdjust="spacingAndGlyphs" stroke="#111" stroke-width="0.32">根据具体情况</text>
<text x="171.2" y="476.51" font-size="5.3" font-weight="900" font-family='"Liberation Sans","Noto Sans CJK SC",sans-serif' text-anchor="middle" fill="#111" textLength="10.2" lengthAdjust="spacingAndGlyphs" stroke="#111" stroke-width="0.32">立柱</text>
<text x="189.7" y="412.53" font-size="6.9" font-weight="bold" font-family='"Liberation Sans","Noto Sans CJK SC",sans-serif' text-anchor="middle" fill="#111" textLength="3.2" lengthAdjust="spacingAndGlyphs" stroke="#111" stroke-width="0.2">7</text>
<text x="225.3" y="411.96" font-size="5.3" font-weight="900" font-family='"Liberation Sans","Noto Sans CJK SC",sans-serif' text-anchor="middle" fill="#111" textLength="21.5" lengthAdjust="spacingAndGlyphs" stroke="#111" stroke-width="0.32">丝杆接头</text>
<text x="270.05" y="412.53" font-size="6.9" font-weight="bold" font-family='"Liberation Sans","Noto Sans CJK SC",sans-serif' text-anchor="middle" fill="#111" textLength="10.5" lengthAdjust="spacingAndGlyphs" stroke="#111" stroke-width="0.2">M10</text>
<text x="292.05" y="411.96" font-size="5.3" font-weight="900" font-family='"Liberation Sans","Noto Sans CJK SC",sans-serif' text-anchor="middle" fill="#111" textLength="5.2" lengthAdjust="spacingAndGlyphs" stroke="#111" stroke-width="0.32">只</text>
<text x="315.8" y="412.53" font-size="6.9" font-weight="bold" font-family='"Liberation Sans","Noto Sans CJK SC",sans-serif' text-anchor="middle" fill="#111" textLength="3.2" lengthAdjust="spacingAndGlyphs" stroke="#111" stroke-width="0.2">2</text>
<text x="189.7" y="425.23" font-size="6.9" font-weight="bold" font-family='"Liberation Sans","Noto Sans CJK SC",sans-serif' text-anchor="middle" fill="#111" textLength="3.2" lengthAdjust="spacingAndGlyphs" stroke="#111" stroke-width="0.2">8</text>
<text x="225.3" y="424.66" font-size="5.3" font-weight="900" font-family='"Liberation Sans","Noto Sans CJK SC",sans-serif' text-anchor="middle" fill="#111" textLength="21.5" lengthAdjust="spacingAndGlyphs" stroke="#111" stroke-width="0.32">型钢华司</text>
<text x="270.05" y="425.23" font-size="6.9" font-weight="bold" font-family='"Liberation Sans","Noto Sans CJK SC",sans-serif' text-anchor="middle" fill="#111" textLength="13" lengthAdjust="spacingAndGlyphs" stroke="#111" stroke-width="0.2">41*41</text>
<text x="292.05" y="424.66" font-size="5.3" font-weight="900" font-family='"Liberation Sans","Noto Sans CJK SC",sans-serif' text-anchor="middle" fill="#111" textLength="5.2" lengthAdjust="spacingAndGlyphs" stroke="#111" stroke-width="0.32">只</text>
<text x="315.8" y="425.23" font-size="6.9" font-weight="bold" font-family='"Liberation Sans","Noto Sans CJK SC",sans-serif' text-anchor="middle" fill="#111" textLength="3.2" lengthAdjust="spacingAndGlyphs" stroke="#111" stroke-width="0.2">2</text>
<text x="189.7" y="438.08" font-size="6.9" font-weight="bold" font-family='"Liberation Sans","Noto Sans CJK SC",sans-serif' text-anchor="middle" fill="#111" textLength="3.2" lengthAdjust="spacingAndGlyphs" stroke="#111" stroke-width="0.2">9</text>
<text x="225.3" y="437.51" font-size="5.3" font-weight="900" font-family='"Liberation Sans","Noto Sans CJK SC",sans-serif' text-anchor="middle" fill="#111" textLength="40.5" lengthAdjust="spacingAndGlyphs" stroke="#111" stroke-width="0.32">弹簧螺母(含塑翼)</text>
<text x="270.05" y="438.08" font-size="6.9" font-weight="bold" font-family='"Liberation Sans","Noto Sans CJK SC",sans-serif' text-anchor="middle" fill="#111" textLength="10.5" lengthAdjust="spacingAndGlyphs" stroke="#111" stroke-width="0.2">M10</text>
<text x="292.05" y="437.51" font-size="5.3" font-weight="900" font-family='"Liberation Sans","Noto Sans CJK SC",sans-serif' text-anchor="middle" fill="#111" textLength="5.2" lengthAdjust="spacingAndGlyphs" stroke="#111" stroke-width="0.32">只</text>
<text x="315.8" y="438.08" font-size="6.9" font-weight="bold" font-family='"Liberation Sans","Noto Sans CJK SC",sans-serif' text-anchor="middle" fill="#111" textLength="5.4" lengthAdjust="spacingAndGlyphs" stroke="#111" stroke-width="0.2">13</text>
<text x="189.7" y="450.78" font-size="6.9" font-weight="bold" font-family='"Liberation Sans","Noto Sans CJK SC",sans-serif' text-anchor="middle" fill="#111" textLength="5.6" lengthAdjust="spacingAndGlyphs" stroke="#111" stroke-width="0.2">10</text>
<text x="225.3" y="450.21" font-size="5.3" font-weight="900" font-family='"Liberation Sans","Noto Sans CJK SC",sans-serif' text-anchor="middle" fill="#111" textLength="21.5" lengthAdjust="spacingAndGlyphs" stroke="#111" stroke-width="0.32">防滑螺母</text>
<text x="270.05" y="450.78" font-size="6.9" font-weight="bold" font-family='"Liberation Sans","Noto Sans CJK SC",sans-serif' text-anchor="middle" fill="#111" textLength="10.5" lengthAdjust="spacingAndGlyphs" stroke="#111" stroke-width="0.2">M10</text>
<text x="292.05" y="450.21" font-size="5.3" font-weight="900" font-family='"Liberation Sans","Noto Sans CJK SC",sans-serif' text-anchor="middle" fill="#111" textLength="5.2" lengthAdjust="spacingAndGlyphs" stroke="#111" stroke-width="0.32">只</text>
<text x="315.8" y="450.78" font-size="6.9" font-weight="bold" font-family='"Liberation Sans","Noto Sans CJK SC",sans-serif' text-anchor="middle" fill="#111" textLength="3.2" lengthAdjust="spacingAndGlyphs" stroke="#111" stroke-width="0.2">4</text>
<text x="189.7" y="463.58" font-size="6.9" font-weight="bold" font-family='"Liberation Sans","Noto Sans CJK SC",sans-serif' text-anchor="middle" fill="#111" textLength="5.6" lengthAdjust="spacingAndGlyphs" stroke="#111" stroke-width="0.2">11</text>
<text x="225.3" y="463.01" font-size="5.3" font-weight="900" font-family='"Liberation Sans","Noto Sans CJK SC",sans-serif' text-anchor="middle" fill="#111" textLength="54.5" lengthAdjust="spacingAndGlyphs" stroke="#111" stroke-width="0.32">高强度外六角防滑螺栓</text>
<text x="270.05" y="463.58" font-size="6.9" font-weight="bold" font-family='"Liberation Sans","Noto Sans CJK SC",sans-serif' text-anchor="middle" fill="#111" textLength="18.5" lengthAdjust="spacingAndGlyphs" stroke="#111" stroke-width="0.2">M10*25</text>
<text x="292.05" y="463.01" font-size="5.3" font-weight="900" font-family='"Liberation Sans","Noto Sans CJK SC",sans-serif' text-anchor="middle" fill="#111" textLength="5.2" lengthAdjust="spacingAndGlyphs" stroke="#111" stroke-width="0.32">只</text>
<text x="315.8" y="463.58" font-size="6.9" font-weight="bold" font-family='"Liberation Sans","Noto Sans CJK SC",sans-serif' text-anchor="middle" fill="#111" textLength="5.4" lengthAdjust="spacingAndGlyphs" stroke="#111" stroke-width="0.2">13</text>
<line x1="371.5" y1="405" x2="687" y2="405" stroke="#111" stroke-width="1.7" />
<line x1="372" y1="405" x2="372" y2="494" stroke="#111" stroke-width="1.3" />
<line x1="407" y1="405" x2="407" y2="494" stroke="#2a2a2a" stroke-width="0.8" />
<line x1="451.4" y1="405" x2="451.4" y2="494" stroke="#2a2a2a" stroke-width="0.8" />
<line x1="487" y1="405" x2="487" y2="494" stroke="#2a2a2a" stroke-width="0.9" />
<line x1="372" y1="416" x2="487" y2="416" stroke="#2a2a2a" stroke-width="0.8" />
<line x1="372" y1="426.2" x2="487" y2="426.2" stroke="#2a2a2a" stroke-width="0.8" />
<line x1="372" y1="437" x2="487" y2="437" stroke="#2a2a2a" stroke-width="0.8" />
<line x1="372" y1="447.3" x2="487" y2="447.3" stroke="#2a2a2a" stroke-width="0.8" />
<line x1="372" y1="458" x2="487" y2="458" stroke="#2a2a2a" stroke-width="0.8" />
<line x1="372" y1="468.6" x2="487" y2="468.6" stroke="#2a2a2a" stroke-width="0.8" />
<line x1="493" y1="426.2" x2="652" y2="426.2" stroke="#bdbdbd" stroke-width="0.7" />
<line x1="652" y1="426.2" x2="687" y2="426.2" stroke="#555" stroke-width="0.8" />
<line x1="487" y1="468.6" x2="687" y2="468.6" stroke="#2a2a2a" stroke-width="0.9" />
<line x1="487" y1="479.2" x2="687" y2="479.2" stroke="#2a2a2a" stroke-width="0.8" />
<line x1="522" y1="468.6" x2="522" y2="494" stroke="#2a2a2a" stroke-width="0.8" />
<line x1="566" y1="468.6" x2="566" y2="494" stroke="#2a2a2a" stroke-width="0.8" />
<line x1="601" y1="468.6" x2="601" y2="494" stroke="#2a2a2a" stroke-width="0.8" />
<text x="389.6" y="412.4" font-size="5.3" font-weight="900" font-family='"Liberation Sans","Noto Sans CJK SC",sans-serif' text-anchor="middle" fill="#111" textLength="16.8" lengthAdjust="spacingAndGlyphs" stroke="#111" stroke-width="0.3">制　图</text>
<text x="389.6" y="423" font-size="5.3" font-weight="900" font-family='"Liberation Sans","Noto Sans CJK SC",sans-serif' text-anchor="middle" fill="#111" textLength="16.8" lengthAdjust="spacingAndGlyphs" stroke="#111" stroke-width="0.3">设　计</text>
<text x="389.6" y="433.5" font-size="5.3" font-weight="900" font-family='"Liberation Sans","Noto Sans CJK SC",sans-serif' text-anchor="middle" fill="#111" textLength="16.8" lengthAdjust="spacingAndGlyphs" stroke="#111" stroke-width="0.3">校　对</text>
<text x="389.6" y="444.05" font-size="5.3" font-weight="900" font-family='"Liberation Sans","Noto Sans CJK SC",sans-serif' text-anchor="middle" fill="#111" textLength="16.8" lengthAdjust="spacingAndGlyphs" stroke="#111" stroke-width="0.3">审　核</text>
<text x="389.6" y="454.55" font-size="5.3" font-weight="900" font-family='"Liberation Sans","Noto Sans CJK SC",sans-serif' text-anchor="middle" fill="#111" textLength="25.4" lengthAdjust="spacingAndGlyphs" stroke="#111" stroke-width="0.3">专业负责人</text>
<text x="389.6" y="465.2" font-size="5.3" font-weight="900" font-family='"Liberation Sans","Noto Sans CJK SC",sans-serif' text-anchor="middle" fill="#111" textLength="25.4" lengthAdjust="spacingAndGlyphs" stroke="#111" stroke-width="0.3">工程负责人</text>
<text x="389.6" y="487.2" font-size="5.3" font-weight="900" font-family='"Liberation Sans","Noto Sans CJK SC",sans-serif' text-anchor="middle" fill="#111" textLength="16.8" lengthAdjust="spacingAndGlyphs" stroke="#111" stroke-width="0.3">审　定</text>
<text x="504.6" y="476.1" font-size="5.3" font-weight="900" font-family='"Liberation Sans","Noto Sans CJK SC",sans-serif' text-anchor="middle" fill="#111" textLength="14.4" lengthAdjust="spacingAndGlyphs" stroke="#111" stroke-width="0.3">比　例</text>
<text x="504.6" y="487.2" font-size="5.3" font-weight="900" font-family='"Liberation Sans","Noto Sans CJK SC",sans-serif' text-anchor="middle" fill="#111" textLength="14.4" lengthAdjust="spacingAndGlyphs" stroke="#111" stroke-width="0.3">日　期</text>
<text x="583.6" y="476.1" font-size="5.3" font-weight="900" font-family='"Liberation Sans","Noto Sans CJK SC",sans-serif' text-anchor="middle" fill="#111" textLength="19.6" lengthAdjust="spacingAndGlyphs" stroke="#111" stroke-width="0.3">设计阶段</text>
<text x="583.6" y="487.2" font-size="5.3" font-weight="900" font-family='"Liberation Sans","Noto Sans CJK SC",sans-serif' text-anchor="middle" fill="#111" textLength="14.4" lengthAdjust="spacingAndGlyphs" stroke="#111" stroke-width="0.3">数　量</text>
<text x="491 500.04 509.08 518.12 527.16 536.2 545.24 554.28 563.32 572.36 581.4 590.44 599.48 608.52 623 630.6 638.6 644.6 653 659 667 673.2 678.4" y="461.1" font-size="9.1" font-weight="bold" stroke="#111" stroke-width="0.25" font-family='"Liberation Sans","Noto Sans CJK SC",sans-serif' fill="#111">电缆桥架单侧双纵向抗震支吊架（6、7、8、9度</text>
<g>
<ellipse cx="578.6" cy="457.6" rx="6.6" ry="5.8" fill="#fff" stroke="#d6d6d6" stroke-width="0.7"/>
<path d="M575.4 462.4 L574.2 465 L577.6 463.3 Z" fill="#fff" stroke="#d6d6d6" stroke-width="0.5"/>
<ellipse cx="589.4" cy="464.8" rx="5.4" ry="4.6" fill="#fff" stroke="#d6d6d6" stroke-width="0.7"/>
<circle cx="576.4" cy="456" r="0.8" fill="#c8c8c8"/><circle cx="580.8" cy="456" r="0.8" fill="#c8c8c8"/>
<circle cx="587.6" cy="463.6" r="0.6" fill="#c8c8c8"/><circle cx="591.2" cy="463.6" r="0.6" fill="#c8c8c8"/>
<text x="603.2" y="469.4" font-size="14.4" font-family='"Liberation Sans","Noto Sans CJK SC",sans-serif' font-weight="400" fill="#fff" stroke="#b9b9b9" stroke-width="1.2" paint-order="stroke" textLength="59.4" lengthAdjust="spacingAndGlyphs">BIM蓝图</text>
</g>
</g>
</svg>
</body>
</html>
